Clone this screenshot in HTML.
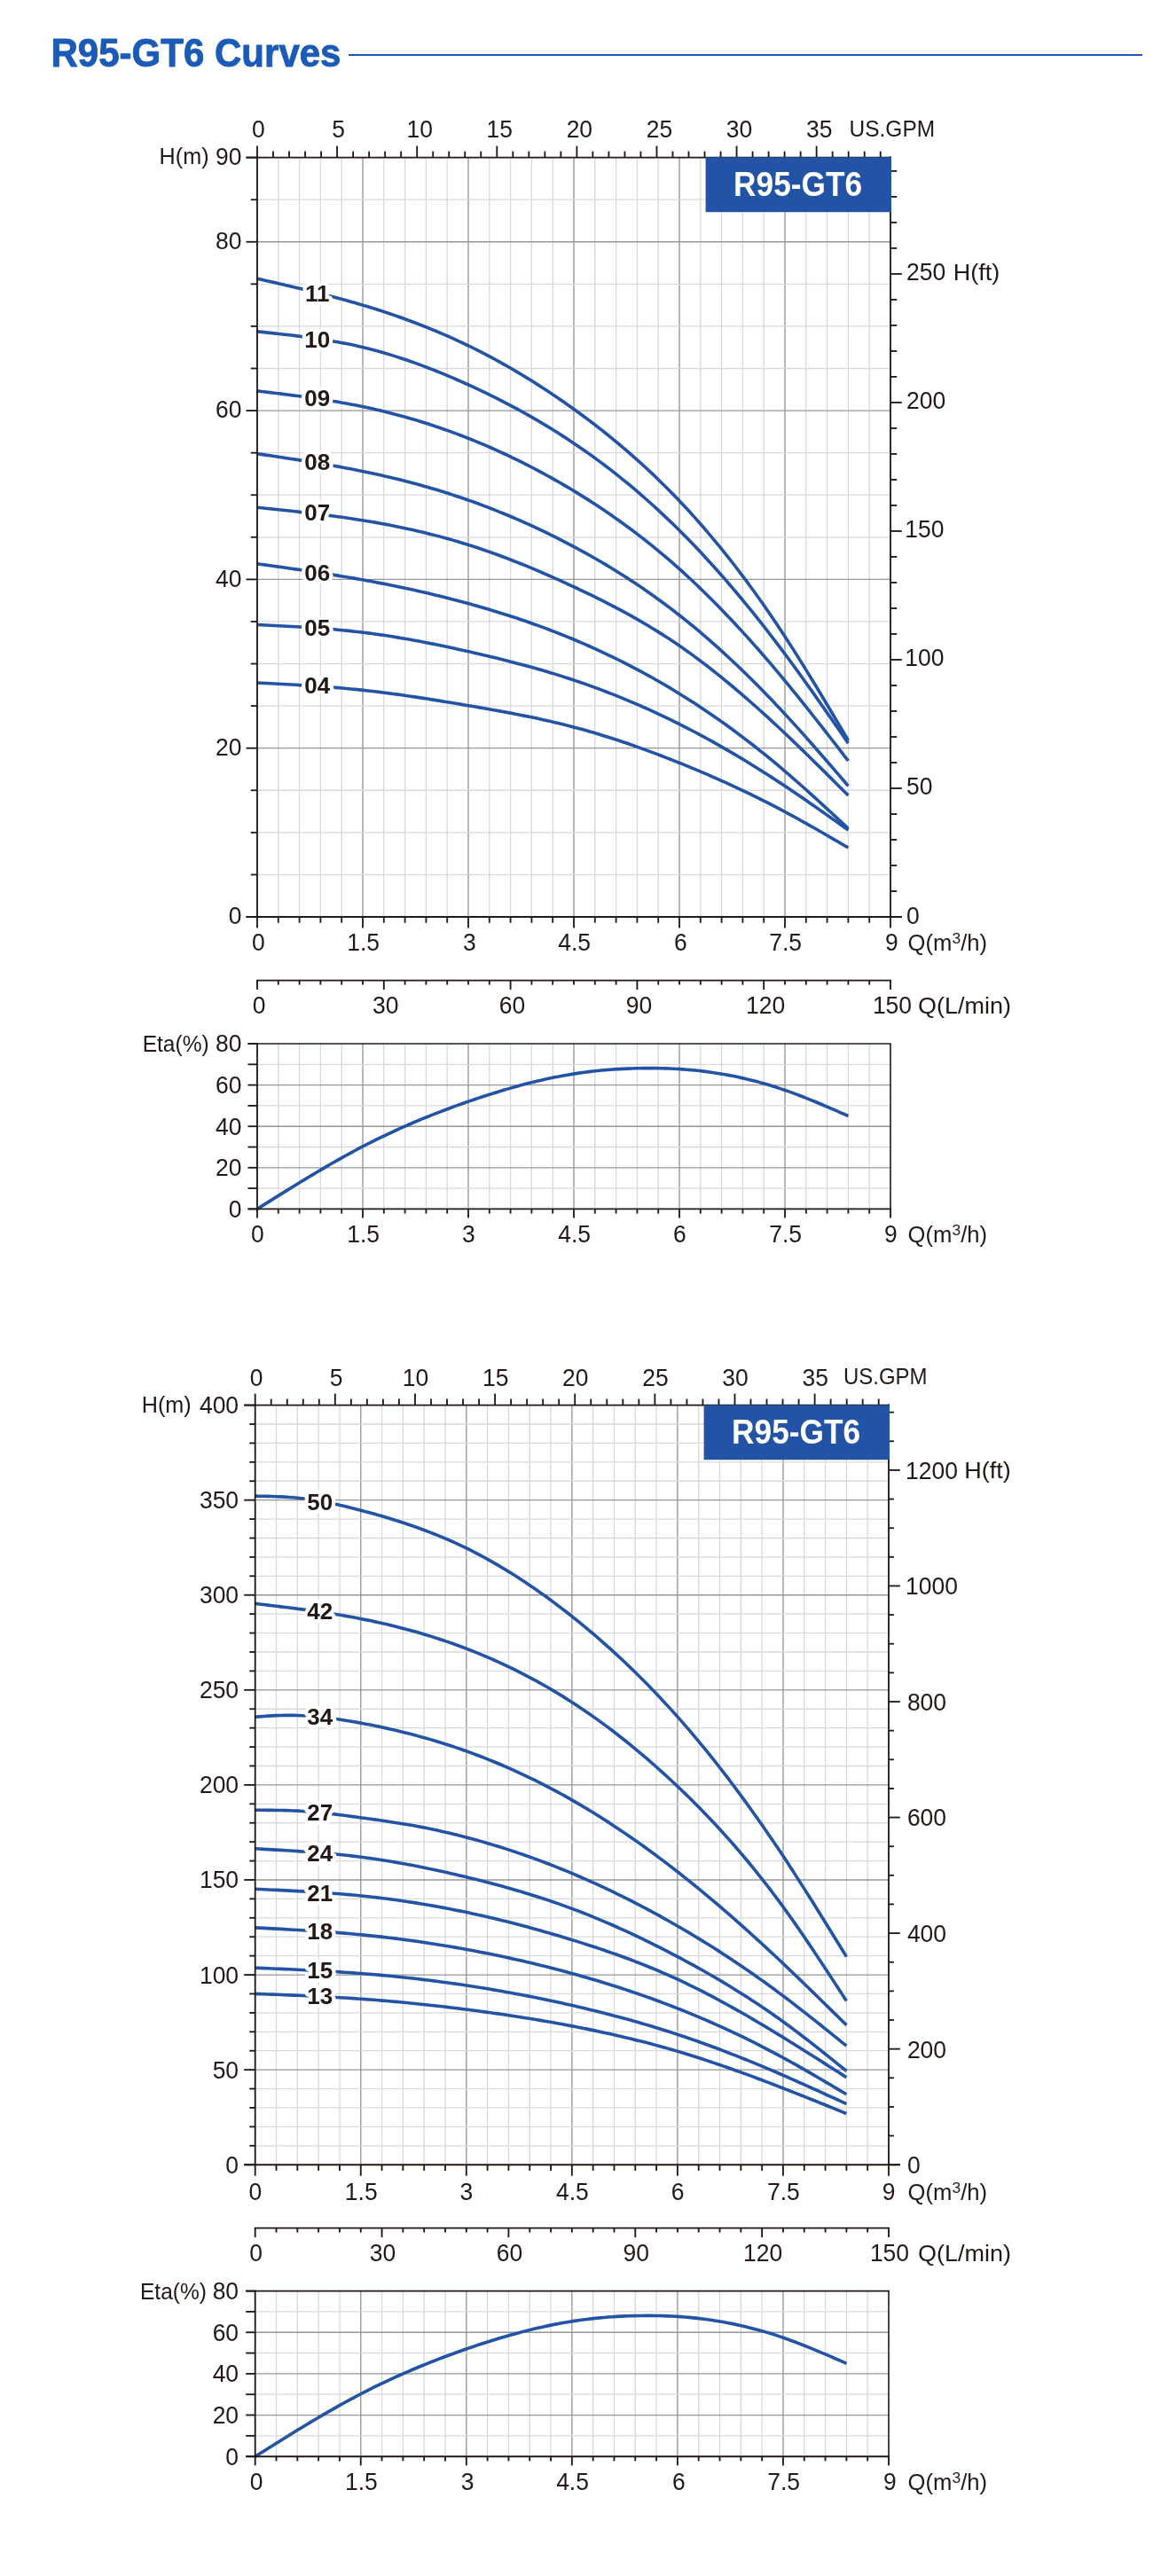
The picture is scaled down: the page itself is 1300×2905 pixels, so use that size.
<!DOCTYPE html>
<html lang="en">
<head>
<meta charset="utf-8">
<title>R95-GT6 Curves</title>
<style>
html,body{margin:0;padding:0;background:#fff;}
body{width:1300px;height:2905px;overflow:hidden;font-family:'Liberation Sans', sans-serif;}
svg text{white-space:pre;}
</style>
</head>
<body>
<svg width="1300" height="2905" viewBox="0 0 1300 2905" font-family="'Liberation Sans', sans-serif" style="display:block;will-change:transform">
<rect width="1300" height="2905" fill="#fff"/>
<text x="57.5" y="74.5" text-anchor="start" font-size="44.5" font-weight="bold" fill="#1b5bb8" textLength="327" lengthAdjust="spacingAndGlyphs" stroke="#1b5bb8" stroke-width="0.9" stroke-linejoin="round">R95-GT6 Curves</text>
<line x1="393" y1="62" x2="1288" y2="62" stroke="#1b5bb8" stroke-width="2"/>
<g shape-rendering="auto">
<line x1="313.8" y1="177.6" x2="313.8" y2="1034" stroke="#d9d9d9" stroke-width="1.3"/>
<line x1="337.6" y1="177.6" x2="337.6" y2="1034" stroke="#d9d9d9" stroke-width="1.3"/>
<line x1="361.4" y1="177.6" x2="361.4" y2="1034" stroke="#d9d9d9" stroke-width="1.3"/>
<line x1="385.2" y1="177.6" x2="385.2" y2="1034" stroke="#d9d9d9" stroke-width="1.3"/>
<line x1="409" y1="177.6" x2="409" y2="1034" stroke="#969696" stroke-width="1.35"/>
<line x1="432.8" y1="177.6" x2="432.8" y2="1034" stroke="#d9d9d9" stroke-width="1.3"/>
<line x1="456.6" y1="177.6" x2="456.6" y2="1034" stroke="#d9d9d9" stroke-width="1.3"/>
<line x1="480.4" y1="177.6" x2="480.4" y2="1034" stroke="#d9d9d9" stroke-width="1.3"/>
<line x1="504.2" y1="177.6" x2="504.2" y2="1034" stroke="#d9d9d9" stroke-width="1.3"/>
<line x1="528" y1="177.6" x2="528" y2="1034" stroke="#969696" stroke-width="1.35"/>
<line x1="551.8" y1="177.6" x2="551.8" y2="1034" stroke="#d9d9d9" stroke-width="1.3"/>
<line x1="575.6" y1="177.6" x2="575.6" y2="1034" stroke="#d9d9d9" stroke-width="1.3"/>
<line x1="599.4" y1="177.6" x2="599.4" y2="1034" stroke="#d9d9d9" stroke-width="1.3"/>
<line x1="623.2" y1="177.6" x2="623.2" y2="1034" stroke="#d9d9d9" stroke-width="1.3"/>
<line x1="647" y1="177.6" x2="647" y2="1034" stroke="#969696" stroke-width="1.35"/>
<line x1="670.8" y1="177.6" x2="670.8" y2="1034" stroke="#d9d9d9" stroke-width="1.3"/>
<line x1="694.6" y1="177.6" x2="694.6" y2="1034" stroke="#d9d9d9" stroke-width="1.3"/>
<line x1="718.4" y1="177.6" x2="718.4" y2="1034" stroke="#d9d9d9" stroke-width="1.3"/>
<line x1="742.2" y1="177.6" x2="742.2" y2="1034" stroke="#d9d9d9" stroke-width="1.3"/>
<line x1="766" y1="177.6" x2="766" y2="1034" stroke="#969696" stroke-width="1.35"/>
<line x1="789.8" y1="177.6" x2="789.8" y2="1034" stroke="#d9d9d9" stroke-width="1.3"/>
<line x1="813.6" y1="177.6" x2="813.6" y2="1034" stroke="#d9d9d9" stroke-width="1.3"/>
<line x1="837.4" y1="177.6" x2="837.4" y2="1034" stroke="#d9d9d9" stroke-width="1.3"/>
<line x1="861.2" y1="177.6" x2="861.2" y2="1034" stroke="#d9d9d9" stroke-width="1.3"/>
<line x1="885" y1="177.6" x2="885" y2="1034" stroke="#969696" stroke-width="1.35"/>
<line x1="908.8" y1="177.6" x2="908.8" y2="1034" stroke="#d9d9d9" stroke-width="1.3"/>
<line x1="932.6" y1="177.6" x2="932.6" y2="1034" stroke="#d9d9d9" stroke-width="1.3"/>
<line x1="956.4" y1="177.6" x2="956.4" y2="1034" stroke="#d9d9d9" stroke-width="1.3"/>
<line x1="980.2" y1="177.6" x2="980.2" y2="1034" stroke="#d9d9d9" stroke-width="1.3"/>
<line x1="290" y1="986.42" x2="1004" y2="986.42" stroke="#d9d9d9" stroke-width="1.3"/>
<line x1="290" y1="938.84" x2="1004" y2="938.84" stroke="#d9d9d9" stroke-width="1.3"/>
<line x1="290" y1="891.27" x2="1004" y2="891.27" stroke="#d9d9d9" stroke-width="1.3"/>
<line x1="290" y1="843.69" x2="1004" y2="843.69" stroke="#969696" stroke-width="1.35"/>
<line x1="290" y1="796.11" x2="1004" y2="796.11" stroke="#d9d9d9" stroke-width="1.3"/>
<line x1="290" y1="748.53" x2="1004" y2="748.53" stroke="#d9d9d9" stroke-width="1.3"/>
<line x1="290" y1="700.96" x2="1004" y2="700.96" stroke="#d9d9d9" stroke-width="1.3"/>
<line x1="290" y1="653.38" x2="1004" y2="653.38" stroke="#969696" stroke-width="1.35"/>
<line x1="290" y1="605.8" x2="1004" y2="605.8" stroke="#d9d9d9" stroke-width="1.3"/>
<line x1="290" y1="558.22" x2="1004" y2="558.22" stroke="#d9d9d9" stroke-width="1.3"/>
<line x1="290" y1="510.64" x2="1004" y2="510.64" stroke="#d9d9d9" stroke-width="1.3"/>
<line x1="290" y1="463.07" x2="1004" y2="463.07" stroke="#969696" stroke-width="1.35"/>
<line x1="290" y1="415.49" x2="1004" y2="415.49" stroke="#d9d9d9" stroke-width="1.3"/>
<line x1="290" y1="367.91" x2="1004" y2="367.91" stroke="#d9d9d9" stroke-width="1.3"/>
<line x1="290" y1="320.33" x2="1004" y2="320.33" stroke="#d9d9d9" stroke-width="1.3"/>
<line x1="290" y1="272.76" x2="1004" y2="272.76" stroke="#969696" stroke-width="1.35"/>
<line x1="290" y1="225.18" x2="1004" y2="225.18" stroke="#d9d9d9" stroke-width="1.3"/>
</g>
<g fill="none" stroke="#2253a5" stroke-width="3.6" stroke-linecap="butt" stroke-linejoin="round">
<path d="M290 314.2 L294.79 315.29 L299.59 316.39 L304.38 317.48 L309.18 318.58 L313.97 319.68 L318.77 320.79 L323.56 321.91 L328.35 323.03 L333.15 324.16 L337.94 325.3 L342.74 326.45 L347.53 327.62 L352.33 328.8 L357.12 329.99 L361.91 331.2 L366.71 332.42 L371.5 333.66 L376.3 334.92 L381.09 336.2 L385.88 337.5 L390.68 338.82 L395.47 340.17 L400.27 341.54 L405.06 342.93 L409.86 344.36 L414.65 345.8 L419.44 347.28 L424.24 348.79 L429.03 350.32 L433.83 351.89 L438.62 353.48 L443.42 355.11 L448.21 356.77 L453 358.46 L457.8 360.19 L462.59 361.95 L467.39 363.75 L472.18 365.58 L476.98 367.45 L481.77 369.36 L486.56 371.3 L491.36 373.28 L496.15 375.31 L500.95 377.37 L505.74 379.47 L510.54 381.62 L515.33 383.81 L520.12 386.04 L524.92 388.31 L529.71 390.63 L534.51 393 L539.3 395.41 L544.09 397.86 L548.89 400.36 L553.68 402.9 L558.48 405.49 L563.27 408.13 L568.07 410.81 L572.86 413.53 L577.65 416.3 L582.45 419.11 L587.24 421.97 L592.04 424.88 L596.83 427.83 L601.63 430.82 L606.42 433.86 L611.21 436.95 L616.01 440.08 L620.8 443.25 L625.6 446.47 L630.39 449.74 L635.19 453.05 L639.98 456.4 L644.77 459.81 L649.57 463.25 L654.36 466.74 L659.16 470.28 L663.95 473.87 L668.75 477.51 L673.54 481.2 L678.33 484.95 L683.13 488.75 L687.92 492.61 L692.72 496.53 L697.51 500.5 L702.31 504.54 L707.1 508.64 L711.89 512.81 L716.69 517.04 L721.48 521.34 L726.28 525.71 L731.07 530.15 L735.86 534.67 L740.66 539.26 L745.45 543.92 L750.25 548.66 L755.04 553.48 L759.84 558.38 L764.63 563.36 L769.42 568.43 L774.22 573.58 L779.01 578.81 L783.81 584.13 L788.6 589.54 L793.4 595.03 L798.19 600.62 L802.98 606.29 L807.78 612.05 L812.57 617.9 L817.37 623.84 L822.16 629.88 L826.96 636.01 L831.75 642.23 L836.54 648.54 L841.34 654.95 L846.13 661.45 L850.93 668.05 L855.72 674.75 L860.52 681.55 L865.31 688.44 L870.1 695.43 L874.9 702.53 L879.69 709.72 L884.49 717.01 L889.28 724.41 L894.07 731.9 L898.87 739.48 L903.66 747.14 L908.46 754.88 L913.25 762.69 L918.05 770.56 L922.84 778.48 L927.63 786.45 L932.43 794.46 L937.22 802.51 L942.02 810.58 L946.81 818.68 L951.61 826.78 L956.4 834.9"/>
<path d="M290 373.9 L294.79 374.4 L299.59 374.9 L304.38 375.4 L309.18 375.91 L313.97 376.43 L318.77 376.96 L323.56 377.51 L328.35 378.06 L333.15 378.64 L337.94 379.23 L342.74 379.84 L347.53 380.48 L352.33 381.14 L357.12 381.83 L361.91 382.55 L366.71 383.3 L371.5 384.08 L376.3 384.9 L381.09 385.76 L385.88 386.65 L390.68 387.59 L395.47 388.57 L400.27 389.6 L405.06 390.68 L409.86 391.81 L414.65 392.98 L419.44 394.21 L424.24 395.49 L429.03 396.82 L433.83 398.2 L438.62 399.63 L443.42 401.1 L448.21 402.62 L453 404.18 L457.8 405.79 L462.59 407.44 L467.39 409.13 L472.18 410.87 L476.98 412.65 L481.77 414.47 L486.56 416.32 L491.36 418.22 L496.15 420.15 L500.95 422.12 L505.74 424.13 L510.54 426.17 L515.33 428.25 L520.12 430.36 L524.92 432.51 L529.71 434.68 L534.51 436.89 L539.3 439.13 L544.09 441.4 L548.89 443.71 L553.68 446.05 L558.48 448.43 L563.27 450.85 L568.07 453.3 L572.86 455.8 L577.65 458.33 L582.45 460.9 L587.24 463.52 L592.04 466.17 L596.83 468.87 L601.63 471.61 L606.42 474.4 L611.21 477.23 L616.01 480.11 L620.8 483.04 L625.6 486.01 L630.39 489.04 L635.19 492.11 L639.98 495.23 L644.77 498.41 L649.57 501.64 L654.36 504.92 L659.16 508.25 L663.95 511.64 L668.75 515.08 L673.54 518.58 L678.33 522.14 L683.13 525.76 L687.92 529.43 L692.72 533.16 L697.51 536.95 L702.31 540.81 L707.1 544.72 L711.89 548.7 L716.69 552.74 L721.48 556.84 L726.28 561.01 L731.07 565.24 L735.86 569.53 L740.66 573.9 L745.45 578.33 L750.25 582.83 L755.04 587.4 L759.84 592.03 L764.63 596.74 L769.42 601.52 L774.22 606.37 L779.01 611.29 L783.81 616.28 L788.6 621.34 L793.4 626.47 L798.19 631.67 L802.98 636.94 L807.78 642.28 L812.57 647.69 L817.37 653.16 L822.16 658.7 L826.96 664.31 L831.75 669.99 L836.54 675.74 L841.34 681.55 L846.13 687.43 L850.93 693.37 L855.72 699.38 L860.52 705.46 L865.31 711.6 L870.1 717.8 L874.9 724.08 L879.69 730.41 L884.49 736.81 L889.28 743.27 L894.07 749.8 L898.87 756.37 L903.66 763 L908.46 769.68 L913.25 776.4 L918.05 783.16 L922.84 789.95 L927.63 796.77 L932.43 803.62 L937.22 810.49 L942.02 817.38 L946.81 824.28 L951.61 831.19 L956.4 838.1"/>
<path d="M290 440.9 L294.79 441.47 L299.59 442.04 L304.38 442.62 L309.18 443.2 L313.97 443.78 L318.77 444.38 L323.56 444.98 L328.35 445.59 L333.15 446.21 L337.94 446.84 L342.74 447.49 L347.53 448.15 L352.33 448.83 L357.12 449.53 L361.91 450.25 L366.71 450.98 L371.5 451.74 L376.3 452.52 L381.09 453.33 L385.88 454.17 L390.68 455.03 L395.47 455.92 L400.27 456.84 L405.06 457.79 L409.86 458.78 L414.65 459.8 L419.44 460.85 L424.24 461.94 L429.03 463.07 L433.83 464.23 L438.62 465.42 L443.42 466.65 L448.21 467.91 L453 469.21 L457.8 470.55 L462.59 471.92 L467.39 473.33 L472.18 474.77 L476.98 476.25 L481.77 477.77 L486.56 479.33 L491.36 480.92 L496.15 482.54 L500.95 484.21 L505.74 485.91 L510.54 487.65 L515.33 489.42 L520.12 491.24 L524.92 493.09 L529.71 494.98 L534.51 496.91 L539.3 498.87 L544.09 500.88 L548.89 502.92 L553.68 505.01 L558.48 507.13 L563.27 509.29 L568.07 511.49 L572.86 513.73 L577.65 516.01 L582.45 518.33 L587.24 520.69 L592.04 523.1 L596.83 525.54 L601.63 528.02 L606.42 530.55 L611.21 533.11 L616.01 535.72 L620.8 538.37 L625.6 541.06 L630.39 543.8 L635.19 546.57 L639.98 549.39 L644.77 552.26 L649.57 555.16 L654.36 558.11 L659.16 561.1 L663.95 564.14 L668.75 567.23 L673.54 570.36 L678.33 573.55 L683.13 576.78 L687.92 580.06 L692.72 583.4 L697.51 586.79 L702.31 590.23 L707.1 593.73 L711.89 597.28 L716.69 600.9 L721.48 604.56 L726.28 608.29 L731.07 612.08 L735.86 615.93 L740.66 619.84 L745.45 623.82 L750.25 627.86 L755.04 631.97 L759.84 636.14 L764.63 640.38 L769.42 644.68 L774.22 649.06 L779.01 653.5 L783.81 658.01 L788.6 662.59 L793.4 667.23 L798.19 671.94 L802.98 676.71 L807.78 681.55 L812.57 686.45 L817.37 691.41 L822.16 696.43 L826.96 701.52 L831.75 706.67 L836.54 711.87 L841.34 717.14 L846.13 722.46 L850.93 727.84 L855.72 733.28 L860.52 738.77 L865.31 744.33 L870.1 749.93 L874.9 755.59 L879.69 761.31 L884.49 767.08 L889.28 772.9 L894.07 778.77 L898.87 784.69 L903.66 790.65 L908.46 796.65 L913.25 802.68 L918.05 808.75 L922.84 814.84 L927.63 820.96 L932.43 827.1 L937.22 833.26 L942.02 839.43 L946.81 845.62 L951.61 851.81 L956.4 858"/>
<path d="M290 511.7 L294.79 512.4 L299.59 513.11 L304.38 513.82 L309.18 514.53 L313.97 515.24 L318.77 515.96 L323.56 516.69 L328.35 517.42 L333.15 518.15 L337.94 518.9 L342.74 519.65 L347.53 520.42 L352.33 521.19 L357.12 521.98 L361.91 522.78 L366.71 523.59 L371.5 524.42 L376.3 525.27 L381.09 526.13 L385.88 527 L390.68 527.9 L395.47 528.81 L400.27 529.75 L405.06 530.7 L409.86 531.68 L414.65 532.67 L419.44 533.7 L424.24 534.74 L429.03 535.81 L433.83 536.9 L438.62 538.02 L443.42 539.17 L448.21 540.34 L453 541.53 L457.8 542.75 L462.59 544 L467.39 545.28 L472.18 546.59 L476.98 547.92 L481.77 549.28 L486.56 550.67 L491.36 552.1 L496.15 553.55 L500.95 555.03 L505.74 556.55 L510.54 558.09 L515.33 559.67 L520.12 561.28 L524.92 562.93 L529.71 564.6 L534.51 566.31 L539.3 568.06 L544.09 569.84 L548.89 571.65 L553.68 573.5 L558.48 575.39 L563.27 577.3 L568.07 579.26 L572.86 581.24 L577.65 583.27 L582.45 585.32 L587.24 587.42 L592.04 589.54 L596.83 591.71 L601.63 593.91 L606.42 596.14 L611.21 598.41 L616.01 600.72 L620.8 603.06 L625.6 605.44 L630.39 607.85 L635.19 610.3 L639.98 612.79 L644.77 615.32 L649.57 617.88 L654.36 620.47 L659.16 623.11 L663.95 625.79 L668.75 628.5 L673.54 631.26 L678.33 634.06 L683.13 636.9 L687.92 639.79 L692.72 642.72 L697.51 645.7 L702.31 648.72 L707.1 651.79 L711.89 654.91 L716.69 658.08 L721.48 661.3 L726.28 664.58 L731.07 667.9 L735.86 671.28 L740.66 674.71 L745.45 678.2 L750.25 681.74 L755.04 685.35 L759.84 689.01 L764.63 692.73 L769.42 696.51 L774.22 700.35 L779.01 704.25 L783.81 708.21 L788.6 712.22 L793.4 716.3 L798.19 720.44 L802.98 724.64 L807.78 728.89 L812.57 733.2 L817.37 737.57 L822.16 742 L826.96 746.48 L831.75 751.02 L836.54 755.62 L841.34 760.27 L846.13 764.98 L850.93 769.75 L855.72 774.57 L860.52 779.45 L865.31 784.38 L870.1 789.36 L874.9 794.4 L879.69 799.5 L884.49 804.65 L889.28 809.85 L894.07 815.1 L898.87 820.39 L903.66 825.74 L908.46 831.12 L913.25 836.53 L918.05 841.98 L922.84 847.46 L927.63 852.96 L932.43 858.48 L937.22 864.03 L942.02 869.58 L946.81 875.15 L951.61 880.72 L956.4 886.3"/>
<path d="M290 572.3 L294.79 572.79 L299.59 573.28 L304.38 573.78 L309.18 574.27 L313.97 574.77 L318.77 575.28 L323.56 575.79 L328.35 576.3 L333.15 576.83 L337.94 577.36 L342.74 577.9 L347.53 578.45 L352.33 579.01 L357.12 579.59 L361.91 580.17 L366.71 580.77 L371.5 581.39 L376.3 582.02 L381.09 582.67 L385.88 583.33 L390.68 584.01 L395.47 584.71 L400.27 585.43 L405.06 586.17 L409.86 586.94 L414.65 587.72 L419.44 588.53 L424.24 589.37 L429.03 590.22 L433.83 591.11 L438.62 592.02 L443.42 592.95 L448.21 593.91 L453 594.9 L457.8 595.92 L462.59 596.96 L467.39 598.04 L472.18 599.14 L476.98 600.28 L481.77 601.44 L486.56 602.64 L491.36 603.87 L496.15 605.13 L500.95 606.43 L505.74 607.76 L510.54 609.13 L515.33 610.53 L520.12 611.96 L524.92 613.43 L529.71 614.94 L534.51 616.49 L539.3 618.07 L544.09 619.69 L548.89 621.35 L553.68 623.03 L558.48 624.76 L563.27 626.51 L568.07 628.3 L572.86 630.12 L577.65 631.97 L582.45 633.85 L587.24 635.76 L592.04 637.7 L596.83 639.67 L601.63 641.67 L606.42 643.69 L611.21 645.74 L616.01 647.81 L620.8 649.91 L625.6 652.04 L630.39 654.19 L635.19 656.36 L639.98 658.55 L644.77 660.76 L649.57 663 L654.36 665.26 L659.16 667.54 L663.95 669.84 L668.75 672.18 L673.54 674.54 L678.33 676.93 L683.13 679.35 L687.92 681.81 L692.72 684.31 L697.51 686.84 L702.31 689.41 L707.1 692.02 L711.89 694.68 L716.69 697.38 L721.48 700.13 L726.28 702.93 L731.07 705.77 L735.86 708.67 L740.66 711.62 L745.45 714.63 L750.25 717.7 L755.04 720.82 L759.84 724.01 L764.63 727.26 L769.42 730.57 L774.22 733.95 L779.01 737.39 L783.81 740.9 L788.6 744.46 L793.4 748.08 L798.19 751.76 L802.98 755.5 L807.78 759.3 L812.57 763.14 L817.37 767.04 L822.16 771 L826.96 775 L831.75 779.05 L836.54 783.15 L841.34 787.3 L846.13 791.49 L850.93 795.73 L855.72 800.01 L860.52 804.33 L865.31 808.69 L870.1 813.09 L874.9 817.53 L879.69 822 L884.49 826.51 L889.28 831.06 L894.07 835.64 L898.87 840.24 L903.66 844.88 L908.46 849.53 L913.25 854.22 L918.05 858.92 L922.84 863.64 L927.63 868.37 L932.43 873.12 L937.22 877.89 L942.02 882.66 L946.81 887.43 L951.61 892.22 L956.4 897"/>
<path d="M290 635.8 L294.79 636.46 L299.59 637.13 L304.38 637.8 L309.18 638.47 L313.97 639.14 L318.77 639.81 L323.56 640.49 L328.35 641.17 L333.15 641.86 L337.94 642.55 L342.74 643.25 L347.53 643.96 L352.33 644.67 L357.12 645.39 L361.91 646.13 L366.71 646.87 L371.5 647.62 L376.3 648.38 L381.09 649.15 L385.88 649.93 L390.68 650.73 L395.47 651.54 L400.27 652.36 L405.06 653.2 L409.86 654.05 L414.65 654.92 L419.44 655.81 L424.24 656.71 L429.03 657.62 L433.83 658.56 L438.62 659.51 L443.42 660.47 L448.21 661.46 L453 662.46 L457.8 663.48 L462.59 664.52 L467.39 665.57 L472.18 666.65 L476.98 667.74 L481.77 668.85 L486.56 669.98 L491.36 671.14 L496.15 672.31 L500.95 673.5 L505.74 674.71 L510.54 675.94 L515.33 677.19 L520.12 678.46 L524.92 679.76 L529.71 681.07 L534.51 682.41 L539.3 683.77 L544.09 685.15 L548.89 686.56 L553.68 687.98 L558.48 689.44 L563.27 690.91 L568.07 692.42 L572.86 693.95 L577.65 695.5 L582.45 697.08 L587.24 698.69 L592.04 700.32 L596.83 701.99 L601.63 703.68 L606.42 705.4 L611.21 707.15 L616.01 708.93 L620.8 710.74 L625.6 712.59 L630.39 714.46 L635.19 716.36 L639.98 718.3 L644.77 720.27 L649.57 722.28 L654.36 724.32 L659.16 726.39 L663.95 728.5 L668.75 730.64 L673.54 732.81 L678.33 735.03 L683.13 737.28 L687.92 739.56 L692.72 741.89 L697.51 744.25 L702.31 746.65 L707.1 749.08 L711.89 751.56 L716.69 754.07 L721.48 756.63 L726.28 759.22 L731.07 761.85 L735.86 764.53 L740.66 767.25 L745.45 770 L750.25 772.8 L755.04 775.64 L759.84 778.53 L764.63 781.46 L769.42 784.43 L774.22 787.44 L779.01 790.5 L783.81 793.6 L788.6 796.75 L793.4 799.94 L798.19 803.18 L802.98 806.46 L807.78 809.78 L812.57 813.15 L817.37 816.57 L822.16 820.03 L826.96 823.54 L831.75 827.09 L836.54 830.69 L841.34 834.34 L846.13 838.03 L850.93 841.77 L855.72 845.56 L860.52 849.39 L865.31 853.27 L870.1 857.19 L874.9 861.17 L879.69 865.19 L884.49 869.26 L889.28 873.38 L894.07 877.54 L898.87 881.75 L903.66 885.99 L908.46 890.27 L913.25 894.58 L918.05 898.92 L922.84 903.29 L927.63 907.67 L932.43 912.08 L937.22 916.51 L942.02 920.94 L946.81 925.39 L951.61 929.84 L956.4 934.3"/>
<path d="M290 704.5 L294.79 704.73 L299.59 704.97 L304.38 705.21 L309.18 705.45 L313.97 705.69 L318.77 705.94 L323.56 706.2 L328.35 706.47 L333.15 706.74 L337.94 707.03 L342.74 707.32 L347.53 707.63 L352.33 707.95 L357.12 708.29 L361.91 708.64 L366.71 709.01 L371.5 709.4 L376.3 709.81 L381.09 710.24 L385.88 710.69 L390.68 711.16 L395.47 711.66 L400.27 712.18 L405.06 712.73 L409.86 713.3 L414.65 713.91 L419.44 714.54 L424.24 715.2 L429.03 715.88 L433.83 716.59 L438.62 717.32 L443.42 718.08 L448.21 718.86 L453 719.67 L457.8 720.49 L462.59 721.34 L467.39 722.21 L472.18 723.1 L476.98 724.01 L481.77 724.94 L486.56 725.88 L491.36 726.84 L496.15 727.82 L500.95 728.82 L505.74 729.83 L510.54 730.85 L515.33 731.89 L520.12 732.94 L524.92 734.01 L529.71 735.09 L534.51 736.18 L539.3 737.28 L544.09 738.39 L548.89 739.52 L553.68 740.66 L558.48 741.82 L563.27 743 L568.07 744.19 L572.86 745.41 L577.65 746.64 L582.45 747.89 L587.24 749.16 L592.04 750.45 L596.83 751.76 L601.63 753.1 L606.42 754.45 L611.21 755.84 L616.01 757.25 L620.8 758.68 L625.6 760.14 L630.39 761.63 L635.19 763.14 L639.98 764.69 L644.77 766.26 L649.57 767.86 L654.36 769.5 L659.16 771.16 L663.95 772.86 L668.75 774.59 L673.54 776.35 L678.33 778.14 L683.13 779.96 L687.92 781.81 L692.72 783.7 L697.51 785.62 L702.31 787.57 L707.1 789.55 L711.89 791.56 L716.69 793.61 L721.48 795.69 L726.28 797.8 L731.07 799.95 L735.86 802.13 L740.66 804.34 L745.45 806.59 L750.25 808.87 L755.04 811.18 L759.84 813.53 L764.63 815.91 L769.42 818.33 L774.22 820.78 L779.01 823.26 L783.81 825.78 L788.6 828.33 L793.4 830.92 L798.19 833.53 L802.98 836.18 L807.78 838.87 L812.57 841.58 L817.37 844.33 L822.16 847.11 L826.96 849.92 L831.75 852.76 L836.54 855.64 L841.34 858.54 L846.13 861.48 L850.93 864.45 L855.72 867.45 L860.52 870.47 L865.31 873.53 L870.1 876.62 L874.9 879.74 L879.69 882.88 L884.49 886.06 L889.28 889.26 L894.07 892.49 L898.87 895.75 L903.66 899.03 L908.46 902.33 L913.25 905.65 L918.05 908.99 L922.84 912.35 L927.63 915.72 L932.43 919.1 L937.22 922.48 L942.02 925.88 L946.81 929.28 L951.61 932.69 L956.4 936.1"/>
<path d="M290 770 L294.79 770.25 L299.59 770.49 L304.38 770.74 L309.18 770.99 L313.97 771.25 L318.77 771.51 L323.56 771.77 L328.35 772.04 L333.15 772.32 L337.94 772.6 L342.74 772.9 L347.53 773.2 L352.33 773.51 L357.12 773.84 L361.91 774.17 L366.71 774.52 L371.5 774.89 L376.3 775.26 L381.09 775.66 L385.88 776.07 L390.68 776.49 L395.47 776.94 L400.27 777.4 L405.06 777.89 L409.86 778.39 L414.65 778.92 L419.44 779.46 L424.24 780.03 L429.03 780.61 L433.83 781.22 L438.62 781.84 L443.42 782.47 L448.21 783.13 L453 783.8 L457.8 784.48 L462.59 785.18 L467.39 785.89 L472.18 786.61 L476.98 787.35 L481.77 788.09 L486.56 788.85 L491.36 789.61 L496.15 790.39 L500.95 791.17 L505.74 791.96 L510.54 792.76 L515.33 793.56 L520.12 794.36 L524.92 795.18 L529.71 795.99 L534.51 796.81 L539.3 797.63 L544.09 798.46 L548.89 799.3 L553.68 800.15 L558.48 801 L563.27 801.87 L568.07 802.75 L572.86 803.64 L577.65 804.54 L582.45 805.46 L587.24 806.4 L592.04 807.36 L596.83 808.33 L601.63 809.33 L606.42 810.35 L611.21 811.39 L616.01 812.45 L620.8 813.54 L625.6 814.66 L630.39 815.8 L635.19 816.98 L639.98 818.18 L644.77 819.42 L649.57 820.68 L654.36 821.98 L659.16 823.32 L663.95 824.68 L668.75 826.07 L673.54 827.5 L678.33 828.96 L683.13 830.44 L687.92 831.96 L692.72 833.5 L697.51 835.07 L702.31 836.67 L707.1 838.3 L711.89 839.95 L716.69 841.63 L721.48 843.34 L726.28 845.07 L731.07 846.82 L735.86 848.6 L740.66 850.41 L745.45 852.23 L750.25 854.08 L755.04 855.95 L759.84 857.84 L764.63 859.75 L769.42 861.68 L774.22 863.63 L779.01 865.61 L783.81 867.6 L788.6 869.62 L793.4 871.66 L798.19 873.72 L802.98 875.81 L807.78 877.92 L812.57 880.05 L817.37 882.21 L822.16 884.39 L826.96 886.6 L831.75 888.83 L836.54 891.09 L841.34 893.38 L846.13 895.69 L850.93 898.03 L855.72 900.4 L860.52 902.8 L865.31 905.22 L870.1 907.68 L874.9 910.16 L879.69 912.68 L884.49 915.23 L889.28 917.8 L894.07 920.41 L898.87 923.04 L903.66 925.7 L908.46 928.38 L913.25 931.08 L918.05 933.81 L922.84 936.54 L927.63 939.3 L932.43 942.06 L937.22 944.84 L942.02 947.62 L946.81 950.41 L951.61 953.2 L956.4 956"/>
</g>
<line x1="290" y1="176.6" x2="290" y2="1035" stroke="#231815" stroke-width="1.85"/>
<line x1="1004" y1="176.6" x2="1004" y2="1035" stroke="#231815" stroke-width="1.85"/>
<line x1="277.5" y1="177.6" x2="1005" y2="177.6" stroke="#231815" stroke-width="1.85"/>
<line x1="277.5" y1="1034" x2="1016.8" y2="1034" stroke="#231815" stroke-width="1.85"/>
<line x1="277.5" y1="1034" x2="290" y2="1034" stroke="#231815" stroke-width="1.85"/>
<line x1="282.8" y1="986.42" x2="290" y2="986.42" stroke="#231815" stroke-width="1.85"/>
<line x1="282.8" y1="938.84" x2="290" y2="938.84" stroke="#231815" stroke-width="1.85"/>
<line x1="282.8" y1="891.27" x2="290" y2="891.27" stroke="#231815" stroke-width="1.85"/>
<line x1="277.5" y1="843.69" x2="290" y2="843.69" stroke="#231815" stroke-width="1.85"/>
<line x1="282.8" y1="796.11" x2="290" y2="796.11" stroke="#231815" stroke-width="1.85"/>
<line x1="282.8" y1="748.53" x2="290" y2="748.53" stroke="#231815" stroke-width="1.85"/>
<line x1="282.8" y1="700.96" x2="290" y2="700.96" stroke="#231815" stroke-width="1.85"/>
<line x1="277.5" y1="653.38" x2="290" y2="653.38" stroke="#231815" stroke-width="1.85"/>
<line x1="282.8" y1="605.8" x2="290" y2="605.8" stroke="#231815" stroke-width="1.85"/>
<line x1="282.8" y1="558.22" x2="290" y2="558.22" stroke="#231815" stroke-width="1.85"/>
<line x1="282.8" y1="510.64" x2="290" y2="510.64" stroke="#231815" stroke-width="1.85"/>
<line x1="277.5" y1="463.07" x2="290" y2="463.07" stroke="#231815" stroke-width="1.85"/>
<line x1="282.8" y1="415.49" x2="290" y2="415.49" stroke="#231815" stroke-width="1.85"/>
<line x1="282.8" y1="367.91" x2="290" y2="367.91" stroke="#231815" stroke-width="1.85"/>
<line x1="282.8" y1="320.33" x2="290" y2="320.33" stroke="#231815" stroke-width="1.85"/>
<line x1="277.5" y1="272.76" x2="290" y2="272.76" stroke="#231815" stroke-width="1.85"/>
<line x1="282.8" y1="225.18" x2="290" y2="225.18" stroke="#231815" stroke-width="1.85"/>
<line x1="277.5" y1="177.6" x2="290" y2="177.6" stroke="#231815" stroke-width="1.85"/>
<text x="272.5" y="185.8" text-anchor="end" font-size="28" fill="#231815" textLength="29.46" lengthAdjust="spacingAndGlyphs">90</text>
<text x="272.5" y="280.96" text-anchor="end" font-size="28" fill="#231815" textLength="29.46" lengthAdjust="spacingAndGlyphs">80</text>
<text x="272.5" y="471.27" text-anchor="end" font-size="28" fill="#231815" textLength="29.46" lengthAdjust="spacingAndGlyphs">60</text>
<text x="272.5" y="661.58" text-anchor="end" font-size="28" fill="#231815" textLength="29.46" lengthAdjust="spacingAndGlyphs">40</text>
<text x="272.5" y="851.89" text-anchor="end" font-size="28" fill="#231815" textLength="29.46" lengthAdjust="spacingAndGlyphs">20</text>
<text x="272.5" y="1042.2" text-anchor="end" font-size="28" fill="#231815" textLength="14.73" lengthAdjust="spacingAndGlyphs">0</text>
<text x="179.6" y="184.7" text-anchor="start" font-size="25" font-weight="normal" fill="#231815" textLength="56" lengthAdjust="spacingAndGlyphs">H(m)</text>
<line x1="1004" y1="1034" x2="1016.8" y2="1034" stroke="#231815" stroke-width="1.85"/>
<line x1="1004" y1="1005" x2="1011.2" y2="1005" stroke="#231815" stroke-width="1.85"/>
<line x1="1004" y1="975.99" x2="1011.2" y2="975.99" stroke="#231815" stroke-width="1.85"/>
<line x1="1004" y1="946.99" x2="1011.2" y2="946.99" stroke="#231815" stroke-width="1.85"/>
<line x1="1004" y1="917.99" x2="1011.2" y2="917.99" stroke="#231815" stroke-width="1.85"/>
<line x1="1004" y1="888.98" x2="1016.8" y2="888.98" stroke="#231815" stroke-width="1.85"/>
<line x1="1004" y1="859.98" x2="1011.2" y2="859.98" stroke="#231815" stroke-width="1.85"/>
<line x1="1004" y1="830.98" x2="1011.2" y2="830.98" stroke="#231815" stroke-width="1.85"/>
<line x1="1004" y1="801.97" x2="1011.2" y2="801.97" stroke="#231815" stroke-width="1.85"/>
<line x1="1004" y1="772.97" x2="1011.2" y2="772.97" stroke="#231815" stroke-width="1.85"/>
<line x1="1004" y1="743.97" x2="1016.8" y2="743.97" stroke="#231815" stroke-width="1.85"/>
<line x1="1004" y1="714.96" x2="1011.2" y2="714.96" stroke="#231815" stroke-width="1.85"/>
<line x1="1004" y1="685.96" x2="1011.2" y2="685.96" stroke="#231815" stroke-width="1.85"/>
<line x1="1004" y1="656.96" x2="1011.2" y2="656.96" stroke="#231815" stroke-width="1.85"/>
<line x1="1004" y1="627.95" x2="1011.2" y2="627.95" stroke="#231815" stroke-width="1.85"/>
<line x1="1004" y1="598.95" x2="1016.8" y2="598.95" stroke="#231815" stroke-width="1.85"/>
<line x1="1004" y1="569.95" x2="1011.2" y2="569.95" stroke="#231815" stroke-width="1.85"/>
<line x1="1004" y1="540.94" x2="1011.2" y2="540.94" stroke="#231815" stroke-width="1.85"/>
<line x1="1004" y1="511.94" x2="1011.2" y2="511.94" stroke="#231815" stroke-width="1.85"/>
<line x1="1004" y1="482.94" x2="1011.2" y2="482.94" stroke="#231815" stroke-width="1.85"/>
<line x1="1004" y1="453.93" x2="1016.8" y2="453.93" stroke="#231815" stroke-width="1.85"/>
<line x1="1004" y1="424.93" x2="1011.2" y2="424.93" stroke="#231815" stroke-width="1.85"/>
<line x1="1004" y1="395.92" x2="1011.2" y2="395.92" stroke="#231815" stroke-width="1.85"/>
<line x1="1004" y1="366.92" x2="1011.2" y2="366.92" stroke="#231815" stroke-width="1.85"/>
<line x1="1004" y1="337.92" x2="1011.2" y2="337.92" stroke="#231815" stroke-width="1.85"/>
<line x1="1004" y1="308.91" x2="1016.8" y2="308.91" stroke="#231815" stroke-width="1.85"/>
<line x1="1004" y1="279.91" x2="1011.2" y2="279.91" stroke="#231815" stroke-width="1.85"/>
<line x1="1004" y1="250.91" x2="1011.2" y2="250.91" stroke="#231815" stroke-width="1.85"/>
<line x1="1004" y1="221.9" x2="1011.2" y2="221.9" stroke="#231815" stroke-width="1.85"/>
<line x1="1004" y1="192.9" x2="1011.2" y2="192.9" stroke="#231815" stroke-width="1.85"/>
<text x="1022" y="316.41" text-anchor="start" font-size="28" fill="#231815" textLength="44.19" lengthAdjust="spacingAndGlyphs">250</text>
<text x="1074.79" y="316.01" text-anchor="start" font-size="25" font-weight="normal" fill="#231815" textLength="52.5" lengthAdjust="spacingAndGlyphs">H(ft)</text>
<text x="1022" y="461.43" text-anchor="start" font-size="28" fill="#231815" textLength="44.19" lengthAdjust="spacingAndGlyphs">200</text>
<text x="1020.2" y="606.45" text-anchor="start" font-size="28" fill="#231815" textLength="44.19" lengthAdjust="spacingAndGlyphs">150</text>
<text x="1020.2" y="751.47" text-anchor="start" font-size="28" fill="#231815" textLength="44.19" lengthAdjust="spacingAndGlyphs">100</text>
<text x="1022" y="896.48" text-anchor="start" font-size="28" fill="#231815" textLength="29.46" lengthAdjust="spacingAndGlyphs">50</text>
<text x="1022" y="1041.5" text-anchor="start" font-size="28" fill="#231815" textLength="14.73" lengthAdjust="spacingAndGlyphs">0</text>
<line x1="290" y1="164.6" x2="290" y2="177.6" stroke="#231815" stroke-width="1.85"/>
<text x="291.4" y="155.3" text-anchor="middle" font-size="28" fill="#231815" textLength="14.73" lengthAdjust="spacingAndGlyphs">0</text>
<line x1="308.02" y1="170.6" x2="308.02" y2="177.6" stroke="#231815" stroke-width="1.85"/>
<line x1="326.04" y1="170.6" x2="326.04" y2="177.6" stroke="#231815" stroke-width="1.85"/>
<line x1="344.06" y1="170.6" x2="344.06" y2="177.6" stroke="#231815" stroke-width="1.85"/>
<line x1="362.07" y1="170.6" x2="362.07" y2="177.6" stroke="#231815" stroke-width="1.85"/>
<line x1="380.09" y1="164.6" x2="380.09" y2="177.6" stroke="#231815" stroke-width="1.85"/>
<text x="381.49" y="155.3" text-anchor="middle" font-size="28" fill="#231815" textLength="14.73" lengthAdjust="spacingAndGlyphs">5</text>
<line x1="398.11" y1="170.6" x2="398.11" y2="177.6" stroke="#231815" stroke-width="1.85"/>
<line x1="416.13" y1="170.6" x2="416.13" y2="177.6" stroke="#231815" stroke-width="1.85"/>
<line x1="434.15" y1="170.6" x2="434.15" y2="177.6" stroke="#231815" stroke-width="1.85"/>
<line x1="452.17" y1="170.6" x2="452.17" y2="177.6" stroke="#231815" stroke-width="1.85"/>
<line x1="470.19" y1="164.6" x2="470.19" y2="177.6" stroke="#231815" stroke-width="1.85"/>
<text x="473.19" y="155.3" text-anchor="middle" font-size="28" fill="#231815" textLength="29.46" lengthAdjust="spacingAndGlyphs">10</text>
<line x1="488.2" y1="170.6" x2="488.2" y2="177.6" stroke="#231815" stroke-width="1.85"/>
<line x1="506.22" y1="170.6" x2="506.22" y2="177.6" stroke="#231815" stroke-width="1.85"/>
<line x1="524.24" y1="170.6" x2="524.24" y2="177.6" stroke="#231815" stroke-width="1.85"/>
<line x1="542.26" y1="170.6" x2="542.26" y2="177.6" stroke="#231815" stroke-width="1.85"/>
<line x1="560.28" y1="164.6" x2="560.28" y2="177.6" stroke="#231815" stroke-width="1.85"/>
<text x="563.28" y="155.3" text-anchor="middle" font-size="28" fill="#231815" textLength="29.46" lengthAdjust="spacingAndGlyphs">15</text>
<line x1="578.3" y1="170.6" x2="578.3" y2="177.6" stroke="#231815" stroke-width="1.85"/>
<line x1="596.32" y1="170.6" x2="596.32" y2="177.6" stroke="#231815" stroke-width="1.85"/>
<line x1="614.33" y1="170.6" x2="614.33" y2="177.6" stroke="#231815" stroke-width="1.85"/>
<line x1="632.35" y1="170.6" x2="632.35" y2="177.6" stroke="#231815" stroke-width="1.85"/>
<line x1="650.37" y1="164.6" x2="650.37" y2="177.6" stroke="#231815" stroke-width="1.85"/>
<text x="653.37" y="155.3" text-anchor="middle" font-size="28" fill="#231815" textLength="29.46" lengthAdjust="spacingAndGlyphs">20</text>
<line x1="668.39" y1="170.6" x2="668.39" y2="177.6" stroke="#231815" stroke-width="1.85"/>
<line x1="686.41" y1="170.6" x2="686.41" y2="177.6" stroke="#231815" stroke-width="1.85"/>
<line x1="704.43" y1="170.6" x2="704.43" y2="177.6" stroke="#231815" stroke-width="1.85"/>
<line x1="722.45" y1="170.6" x2="722.45" y2="177.6" stroke="#231815" stroke-width="1.85"/>
<line x1="740.46" y1="164.6" x2="740.46" y2="177.6" stroke="#231815" stroke-width="1.85"/>
<text x="743.46" y="155.3" text-anchor="middle" font-size="28" fill="#231815" textLength="29.46" lengthAdjust="spacingAndGlyphs">25</text>
<line x1="758.48" y1="170.6" x2="758.48" y2="177.6" stroke="#231815" stroke-width="1.85"/>
<line x1="776.5" y1="170.6" x2="776.5" y2="177.6" stroke="#231815" stroke-width="1.85"/>
<line x1="794.52" y1="170.6" x2="794.52" y2="177.6" stroke="#231815" stroke-width="1.85"/>
<line x1="812.54" y1="170.6" x2="812.54" y2="177.6" stroke="#231815" stroke-width="1.85"/>
<line x1="830.56" y1="164.6" x2="830.56" y2="177.6" stroke="#231815" stroke-width="1.85"/>
<text x="833.56" y="155.3" text-anchor="middle" font-size="28" fill="#231815" textLength="29.46" lengthAdjust="spacingAndGlyphs">30</text>
<line x1="848.58" y1="170.6" x2="848.58" y2="177.6" stroke="#231815" stroke-width="1.85"/>
<line x1="866.59" y1="170.6" x2="866.59" y2="177.6" stroke="#231815" stroke-width="1.85"/>
<line x1="884.61" y1="170.6" x2="884.61" y2="177.6" stroke="#231815" stroke-width="1.85"/>
<line x1="902.63" y1="170.6" x2="902.63" y2="177.6" stroke="#231815" stroke-width="1.85"/>
<line x1="920.65" y1="164.6" x2="920.65" y2="177.6" stroke="#231815" stroke-width="1.85"/>
<text x="923.65" y="155.3" text-anchor="middle" font-size="28" fill="#231815" textLength="29.46" lengthAdjust="spacingAndGlyphs">35</text>
<line x1="938.67" y1="170.6" x2="938.67" y2="177.6" stroke="#231815" stroke-width="1.85"/>
<line x1="956.69" y1="170.6" x2="956.69" y2="177.6" stroke="#231815" stroke-width="1.85"/>
<line x1="974.71" y1="170.6" x2="974.71" y2="177.6" stroke="#231815" stroke-width="1.85"/>
<line x1="992.72" y1="170.6" x2="992.72" y2="177.6" stroke="#231815" stroke-width="1.85"/>
<text x="957.6" y="154.4" text-anchor="start" font-size="25" font-weight="normal" fill="#231815" textLength="96.5" lengthAdjust="spacingAndGlyphs">US.GPM</text>
<line x1="290" y1="1034" x2="290" y2="1046.5" stroke="#231815" stroke-width="1.85"/>
<line x1="313.8" y1="1034" x2="313.8" y2="1040.7" stroke="#231815" stroke-width="1.85"/>
<line x1="337.6" y1="1034" x2="337.6" y2="1040.7" stroke="#231815" stroke-width="1.85"/>
<line x1="361.4" y1="1034" x2="361.4" y2="1040.7" stroke="#231815" stroke-width="1.85"/>
<line x1="385.2" y1="1034" x2="385.2" y2="1040.7" stroke="#231815" stroke-width="1.85"/>
<line x1="409" y1="1034" x2="409" y2="1046.5" stroke="#231815" stroke-width="1.85"/>
<line x1="432.8" y1="1034" x2="432.8" y2="1040.7" stroke="#231815" stroke-width="1.85"/>
<line x1="456.6" y1="1034" x2="456.6" y2="1040.7" stroke="#231815" stroke-width="1.85"/>
<line x1="480.4" y1="1034" x2="480.4" y2="1040.7" stroke="#231815" stroke-width="1.85"/>
<line x1="504.2" y1="1034" x2="504.2" y2="1040.7" stroke="#231815" stroke-width="1.85"/>
<line x1="528" y1="1034" x2="528" y2="1046.5" stroke="#231815" stroke-width="1.85"/>
<line x1="551.8" y1="1034" x2="551.8" y2="1040.7" stroke="#231815" stroke-width="1.85"/>
<line x1="575.6" y1="1034" x2="575.6" y2="1040.7" stroke="#231815" stroke-width="1.85"/>
<line x1="599.4" y1="1034" x2="599.4" y2="1040.7" stroke="#231815" stroke-width="1.85"/>
<line x1="623.2" y1="1034" x2="623.2" y2="1040.7" stroke="#231815" stroke-width="1.85"/>
<line x1="647" y1="1034" x2="647" y2="1046.5" stroke="#231815" stroke-width="1.85"/>
<line x1="670.8" y1="1034" x2="670.8" y2="1040.7" stroke="#231815" stroke-width="1.85"/>
<line x1="694.6" y1="1034" x2="694.6" y2="1040.7" stroke="#231815" stroke-width="1.85"/>
<line x1="718.4" y1="1034" x2="718.4" y2="1040.7" stroke="#231815" stroke-width="1.85"/>
<line x1="742.2" y1="1034" x2="742.2" y2="1040.7" stroke="#231815" stroke-width="1.85"/>
<line x1="766" y1="1034" x2="766" y2="1046.5" stroke="#231815" stroke-width="1.85"/>
<line x1="789.8" y1="1034" x2="789.8" y2="1040.7" stroke="#231815" stroke-width="1.85"/>
<line x1="813.6" y1="1034" x2="813.6" y2="1040.7" stroke="#231815" stroke-width="1.85"/>
<line x1="837.4" y1="1034" x2="837.4" y2="1040.7" stroke="#231815" stroke-width="1.85"/>
<line x1="861.2" y1="1034" x2="861.2" y2="1040.7" stroke="#231815" stroke-width="1.85"/>
<line x1="885" y1="1034" x2="885" y2="1046.5" stroke="#231815" stroke-width="1.85"/>
<line x1="908.8" y1="1034" x2="908.8" y2="1040.7" stroke="#231815" stroke-width="1.85"/>
<line x1="932.6" y1="1034" x2="932.6" y2="1040.7" stroke="#231815" stroke-width="1.85"/>
<line x1="956.4" y1="1034" x2="956.4" y2="1040.7" stroke="#231815" stroke-width="1.85"/>
<line x1="980.2" y1="1034" x2="980.2" y2="1040.7" stroke="#231815" stroke-width="1.85"/>
<line x1="1004" y1="1034" x2="1004" y2="1046.5" stroke="#231815" stroke-width="1.85"/>
<text x="291.4" y="1072.2" text-anchor="middle" font-size="28" fill="#231815" textLength="14.73" lengthAdjust="spacingAndGlyphs">0</text>
<text x="409.7" y="1072.2" text-anchor="middle" font-size="28" fill="#231815" textLength="36.83" lengthAdjust="spacingAndGlyphs">1.5</text>
<text x="529.4" y="1072.2" text-anchor="middle" font-size="28" fill="#231815" textLength="14.73" lengthAdjust="spacingAndGlyphs">3</text>
<text x="647.7" y="1072.2" text-anchor="middle" font-size="28" fill="#231815" textLength="36.83" lengthAdjust="spacingAndGlyphs">4.5</text>
<text x="767.4" y="1072.2" text-anchor="middle" font-size="28" fill="#231815" textLength="14.73" lengthAdjust="spacingAndGlyphs">6</text>
<text x="885.7" y="1072.2" text-anchor="middle" font-size="28" fill="#231815" textLength="36.83" lengthAdjust="spacingAndGlyphs">7.5</text>
<text x="1005.4" y="1072.2" text-anchor="middle" font-size="28" fill="#231815" textLength="14.73" lengthAdjust="spacingAndGlyphs">9</text>
<text x="1023.6" y="1072.2" font-size="25.0" fill="#231815" textLength="89.5" lengthAdjust="spacingAndGlyphs">Q(m<tspan font-size="17" dy="-8">3</tspan><tspan dy="8">/h)</tspan></text>
<rect x="795.6" y="177.3" width="209.4" height="61.9" fill="#2253a5"/>
<text x="827.1" y="221.2" text-anchor="start" font-size="38.4" font-weight="bold" fill="#fff" textLength="145" lengthAdjust="spacingAndGlyphs">R95-GT6</text>
<g font-weight="bold" font-size="26.0" text-anchor="middle" fill="#231815" stroke="#fff" stroke-width="8.4" stroke-linejoin="round" paint-order="stroke">
<text x="357.7" y="339.9">11</text>
<text x="357.7" y="391.9">10</text>
<text x="357.7" y="457.7">09</text>
<text x="357.7" y="530.2">08</text>
<text x="357.7" y="586.8">07</text>
<text x="357.7" y="654.5">06</text>
<text x="357.7" y="717">05</text>
<text x="357.7" y="782.2">04</text>
</g>
<line x1="289" y1="1105.6" x2="1005" y2="1105.6" stroke="#231815" stroke-width="1.85"/>
<line x1="290" y1="1105.6" x2="290" y2="1116.1" stroke="#231815" stroke-width="1.85"/>
<line x1="313.8" y1="1105.6" x2="313.8" y2="1110.6" stroke="#231815" stroke-width="1.85"/>
<line x1="337.6" y1="1105.6" x2="337.6" y2="1110.6" stroke="#231815" stroke-width="1.85"/>
<line x1="361.4" y1="1105.6" x2="361.4" y2="1110.6" stroke="#231815" stroke-width="1.85"/>
<line x1="385.2" y1="1105.6" x2="385.2" y2="1110.6" stroke="#231815" stroke-width="1.85"/>
<line x1="409" y1="1105.6" x2="409" y2="1110.6" stroke="#231815" stroke-width="1.85"/>
<line x1="432.8" y1="1105.6" x2="432.8" y2="1116.1" stroke="#231815" stroke-width="1.85"/>
<line x1="456.6" y1="1105.6" x2="456.6" y2="1110.6" stroke="#231815" stroke-width="1.85"/>
<line x1="480.4" y1="1105.6" x2="480.4" y2="1110.6" stroke="#231815" stroke-width="1.85"/>
<line x1="504.2" y1="1105.6" x2="504.2" y2="1110.6" stroke="#231815" stroke-width="1.85"/>
<line x1="528" y1="1105.6" x2="528" y2="1110.6" stroke="#231815" stroke-width="1.85"/>
<line x1="551.8" y1="1105.6" x2="551.8" y2="1110.6" stroke="#231815" stroke-width="1.85"/>
<line x1="575.6" y1="1105.6" x2="575.6" y2="1116.1" stroke="#231815" stroke-width="1.85"/>
<line x1="599.4" y1="1105.6" x2="599.4" y2="1110.6" stroke="#231815" stroke-width="1.85"/>
<line x1="623.2" y1="1105.6" x2="623.2" y2="1110.6" stroke="#231815" stroke-width="1.85"/>
<line x1="647" y1="1105.6" x2="647" y2="1110.6" stroke="#231815" stroke-width="1.85"/>
<line x1="670.8" y1="1105.6" x2="670.8" y2="1110.6" stroke="#231815" stroke-width="1.85"/>
<line x1="694.6" y1="1105.6" x2="694.6" y2="1110.6" stroke="#231815" stroke-width="1.85"/>
<line x1="718.4" y1="1105.6" x2="718.4" y2="1116.1" stroke="#231815" stroke-width="1.85"/>
<line x1="742.2" y1="1105.6" x2="742.2" y2="1110.6" stroke="#231815" stroke-width="1.85"/>
<line x1="766" y1="1105.6" x2="766" y2="1110.6" stroke="#231815" stroke-width="1.85"/>
<line x1="789.8" y1="1105.6" x2="789.8" y2="1110.6" stroke="#231815" stroke-width="1.85"/>
<line x1="813.6" y1="1105.6" x2="813.6" y2="1110.6" stroke="#231815" stroke-width="1.85"/>
<line x1="837.4" y1="1105.6" x2="837.4" y2="1110.6" stroke="#231815" stroke-width="1.85"/>
<line x1="861.2" y1="1105.6" x2="861.2" y2="1116.1" stroke="#231815" stroke-width="1.85"/>
<line x1="885" y1="1105.6" x2="885" y2="1110.6" stroke="#231815" stroke-width="1.85"/>
<line x1="908.8" y1="1105.6" x2="908.8" y2="1110.6" stroke="#231815" stroke-width="1.85"/>
<line x1="932.6" y1="1105.6" x2="932.6" y2="1110.6" stroke="#231815" stroke-width="1.85"/>
<line x1="956.4" y1="1105.6" x2="956.4" y2="1110.6" stroke="#231815" stroke-width="1.85"/>
<line x1="980.2" y1="1105.6" x2="980.2" y2="1110.6" stroke="#231815" stroke-width="1.85"/>
<line x1="1004" y1="1105.6" x2="1004" y2="1116.1" stroke="#231815" stroke-width="1.85"/>
<text x="292" y="1143" text-anchor="middle" font-size="28" fill="#231815" textLength="14.73" lengthAdjust="spacingAndGlyphs">0</text>
<text x="434.8" y="1143" text-anchor="middle" font-size="28" fill="#231815" textLength="29.46" lengthAdjust="spacingAndGlyphs">30</text>
<text x="577.6" y="1143" text-anchor="middle" font-size="28" fill="#231815" textLength="29.46" lengthAdjust="spacingAndGlyphs">60</text>
<text x="720.4" y="1143" text-anchor="middle" font-size="28" fill="#231815" textLength="29.46" lengthAdjust="spacingAndGlyphs">90</text>
<text x="863.2" y="1143" text-anchor="middle" font-size="28" fill="#231815" textLength="44.19" lengthAdjust="spacingAndGlyphs">120</text>
<text x="1006" y="1143" text-anchor="middle" font-size="28" fill="#231815" textLength="44.19" lengthAdjust="spacingAndGlyphs">150</text>
<text x="1035" y="1142.8" text-anchor="start" font-size="25" font-weight="normal" fill="#231815" textLength="105" lengthAdjust="spacingAndGlyphs">Q(L/min)</text>
<line x1="313.8" y1="1177" x2="313.8" y2="1363.4" stroke="#d9d9d9" stroke-width="1.3"/>
<line x1="337.6" y1="1177" x2="337.6" y2="1363.4" stroke="#d9d9d9" stroke-width="1.3"/>
<line x1="361.4" y1="1177" x2="361.4" y2="1363.4" stroke="#d9d9d9" stroke-width="1.3"/>
<line x1="385.2" y1="1177" x2="385.2" y2="1363.4" stroke="#d9d9d9" stroke-width="1.3"/>
<line x1="409" y1="1177" x2="409" y2="1363.4" stroke="#969696" stroke-width="1.35"/>
<line x1="432.8" y1="1177" x2="432.8" y2="1363.4" stroke="#d9d9d9" stroke-width="1.3"/>
<line x1="456.6" y1="1177" x2="456.6" y2="1363.4" stroke="#d9d9d9" stroke-width="1.3"/>
<line x1="480.4" y1="1177" x2="480.4" y2="1363.4" stroke="#d9d9d9" stroke-width="1.3"/>
<line x1="504.2" y1="1177" x2="504.2" y2="1363.4" stroke="#d9d9d9" stroke-width="1.3"/>
<line x1="528" y1="1177" x2="528" y2="1363.4" stroke="#969696" stroke-width="1.35"/>
<line x1="551.8" y1="1177" x2="551.8" y2="1363.4" stroke="#d9d9d9" stroke-width="1.3"/>
<line x1="575.6" y1="1177" x2="575.6" y2="1363.4" stroke="#d9d9d9" stroke-width="1.3"/>
<line x1="599.4" y1="1177" x2="599.4" y2="1363.4" stroke="#d9d9d9" stroke-width="1.3"/>
<line x1="623.2" y1="1177" x2="623.2" y2="1363.4" stroke="#d9d9d9" stroke-width="1.3"/>
<line x1="647" y1="1177" x2="647" y2="1363.4" stroke="#969696" stroke-width="1.35"/>
<line x1="670.8" y1="1177" x2="670.8" y2="1363.4" stroke="#d9d9d9" stroke-width="1.3"/>
<line x1="694.6" y1="1177" x2="694.6" y2="1363.4" stroke="#d9d9d9" stroke-width="1.3"/>
<line x1="718.4" y1="1177" x2="718.4" y2="1363.4" stroke="#d9d9d9" stroke-width="1.3"/>
<line x1="742.2" y1="1177" x2="742.2" y2="1363.4" stroke="#d9d9d9" stroke-width="1.3"/>
<line x1="766" y1="1177" x2="766" y2="1363.4" stroke="#969696" stroke-width="1.35"/>
<line x1="789.8" y1="1177" x2="789.8" y2="1363.4" stroke="#d9d9d9" stroke-width="1.3"/>
<line x1="813.6" y1="1177" x2="813.6" y2="1363.4" stroke="#d9d9d9" stroke-width="1.3"/>
<line x1="837.4" y1="1177" x2="837.4" y2="1363.4" stroke="#d9d9d9" stroke-width="1.3"/>
<line x1="861.2" y1="1177" x2="861.2" y2="1363.4" stroke="#d9d9d9" stroke-width="1.3"/>
<line x1="885" y1="1177" x2="885" y2="1363.4" stroke="#969696" stroke-width="1.35"/>
<line x1="908.8" y1="1177" x2="908.8" y2="1363.4" stroke="#d9d9d9" stroke-width="1.3"/>
<line x1="932.6" y1="1177" x2="932.6" y2="1363.4" stroke="#d9d9d9" stroke-width="1.3"/>
<line x1="956.4" y1="1177" x2="956.4" y2="1363.4" stroke="#d9d9d9" stroke-width="1.3"/>
<line x1="980.2" y1="1177" x2="980.2" y2="1363.4" stroke="#d9d9d9" stroke-width="1.3"/>
<line x1="290" y1="1340.1" x2="1004" y2="1340.1" stroke="#d9d9d9" stroke-width="1.3"/>
<line x1="290" y1="1316.8" x2="1004" y2="1316.8" stroke="#969696" stroke-width="1.35"/>
<line x1="290" y1="1293.5" x2="1004" y2="1293.5" stroke="#d9d9d9" stroke-width="1.3"/>
<line x1="290" y1="1270.2" x2="1004" y2="1270.2" stroke="#969696" stroke-width="1.35"/>
<line x1="290" y1="1246.9" x2="1004" y2="1246.9" stroke="#d9d9d9" stroke-width="1.3"/>
<line x1="290" y1="1223.6" x2="1004" y2="1223.6" stroke="#969696" stroke-width="1.35"/>
<line x1="290" y1="1200.3" x2="1004" y2="1200.3" stroke="#d9d9d9" stroke-width="1.3"/>
<path d="M290 1363.4 L294.79 1360.39 L299.59 1357.37 L304.38 1354.37 L309.18 1351.36 L313.97 1348.37 L318.77 1345.38 L323.56 1342.4 L328.35 1339.43 L333.15 1336.48 L337.94 1333.54 L342.74 1330.62 L347.53 1327.72 L352.33 1324.84 L357.12 1321.98 L361.91 1319.14 L366.71 1316.33 L371.5 1313.55 L376.3 1310.79 L381.09 1308.07 L385.88 1305.38 L390.68 1302.72 L395.47 1300.09 L400.27 1297.51 L405.06 1294.96 L409.86 1292.46 L414.65 1289.99 L419.44 1287.57 L424.24 1285.18 L429.03 1282.84 L433.83 1280.54 L438.62 1278.27 L443.42 1276.04 L448.21 1273.85 L453 1271.7 L457.8 1269.58 L462.59 1267.5 L467.39 1265.45 L472.18 1263.43 L476.98 1261.45 L481.77 1259.5 L486.56 1257.58 L491.36 1255.69 L496.15 1253.83 L500.95 1252 L505.74 1250.2 L510.54 1248.43 L515.33 1246.68 L520.12 1244.97 L524.92 1243.27 L529.71 1241.61 L534.51 1239.97 L539.3 1238.35 L544.09 1236.76 L548.89 1235.2 L553.68 1233.67 L558.48 1232.17 L563.27 1230.7 L568.07 1229.26 L572.86 1227.86 L577.65 1226.49 L582.45 1225.15 L587.24 1223.85 L592.04 1222.58 L596.83 1221.36 L601.63 1220.17 L606.42 1219.02 L611.21 1217.91 L616.01 1216.84 L620.8 1215.82 L625.6 1214.83 L630.39 1213.9 L635.19 1213 L639.98 1212.16 L644.77 1211.36 L649.57 1210.6 L654.36 1209.9 L659.16 1209.24 L663.95 1208.63 L668.75 1208.07 L673.54 1207.55 L678.33 1207.07 L683.13 1206.64 L687.92 1206.26 L692.72 1205.91 L697.51 1205.61 L702.31 1205.35 L707.1 1205.12 L711.89 1204.94 L716.69 1204.8 L721.48 1204.7 L726.28 1204.63 L731.07 1204.6 L735.86 1204.61 L740.66 1204.65 L745.45 1204.74 L750.25 1204.87 L755.04 1205.04 L759.84 1205.25 L764.63 1205.52 L769.42 1205.83 L774.22 1206.19 L779.01 1206.6 L783.81 1207.07 L788.6 1207.58 L793.4 1208.14 L798.19 1208.76 L802.98 1209.43 L807.78 1210.16 L812.57 1210.93 L817.37 1211.76 L822.16 1212.64 L826.96 1213.58 L831.75 1214.57 L836.54 1215.62 L841.34 1216.73 L846.13 1217.88 L850.93 1219.1 L855.72 1220.37 L860.52 1221.7 L865.31 1223.09 L870.1 1224.53 L874.9 1226.04 L879.69 1227.6 L884.49 1229.22 L889.28 1230.9 L894.07 1232.64 L898.87 1234.43 L903.66 1236.27 L908.46 1238.15 L913.25 1240.07 L918.05 1242.03 L922.84 1244.01 L927.63 1246.03 L932.43 1248.07 L937.22 1250.13 L942.02 1252.21 L946.81 1254.3 L951.61 1256.4 L956.4 1258.5" fill="none" stroke="#2253a5" stroke-width="3.6"/>
<line x1="290" y1="1176" x2="290" y2="1364.4" stroke="#231815" stroke-width="1.85"/>
<line x1="279.5" y1="1363.4" x2="1005" y2="1363.4" stroke="#231815" stroke-width="1.85"/>
<line x1="279.5" y1="1177" x2="1004.75" y2="1177" stroke="#231815" stroke-width="1.6"/>
<line x1="1004" y1="1177" x2="1004" y2="1364.4" stroke="#231815" stroke-width="1.6"/>
<line x1="279.5" y1="1363.4" x2="290" y2="1363.4" stroke="#231815" stroke-width="1.85"/>
<line x1="279.5" y1="1340.1" x2="290" y2="1340.1" stroke="#231815" stroke-width="1.85"/>
<line x1="279.5" y1="1316.8" x2="290" y2="1316.8" stroke="#231815" stroke-width="1.85"/>
<line x1="279.5" y1="1293.5" x2="290" y2="1293.5" stroke="#231815" stroke-width="1.85"/>
<line x1="279.5" y1="1270.2" x2="290" y2="1270.2" stroke="#231815" stroke-width="1.85"/>
<line x1="279.5" y1="1246.9" x2="290" y2="1246.9" stroke="#231815" stroke-width="1.85"/>
<line x1="279.5" y1="1223.6" x2="290" y2="1223.6" stroke="#231815" stroke-width="1.85"/>
<line x1="279.5" y1="1200.3" x2="290" y2="1200.3" stroke="#231815" stroke-width="1.85"/>
<line x1="279.5" y1="1177" x2="290" y2="1177" stroke="#231815" stroke-width="1.85"/>
<text x="272.5" y="1372.8" text-anchor="end" font-size="28" fill="#231815" textLength="14.73" lengthAdjust="spacingAndGlyphs">0</text>
<text x="272.5" y="1326.2" text-anchor="end" font-size="28" fill="#231815" textLength="29.46" lengthAdjust="spacingAndGlyphs">20</text>
<text x="272.5" y="1279.6" text-anchor="end" font-size="28" fill="#231815" textLength="29.46" lengthAdjust="spacingAndGlyphs">40</text>
<text x="272.5" y="1233" text-anchor="end" font-size="28" fill="#231815" textLength="29.46" lengthAdjust="spacingAndGlyphs">60</text>
<text x="272.5" y="1186.4" text-anchor="end" font-size="28" fill="#231815" textLength="29.46" lengthAdjust="spacingAndGlyphs">80</text>
<text x="160.7" y="1186" text-anchor="start" font-size="25" font-weight="normal" fill="#231815" textLength="75" lengthAdjust="spacingAndGlyphs">Eta(%)</text>
<line x1="290" y1="1363.4" x2="290" y2="1373.6" stroke="#231815" stroke-width="1.85"/>
<line x1="313.8" y1="1363.4" x2="313.8" y2="1368.6" stroke="#231815" stroke-width="1.85"/>
<line x1="337.6" y1="1363.4" x2="337.6" y2="1368.6" stroke="#231815" stroke-width="1.85"/>
<line x1="361.4" y1="1363.4" x2="361.4" y2="1368.6" stroke="#231815" stroke-width="1.85"/>
<line x1="385.2" y1="1363.4" x2="385.2" y2="1368.6" stroke="#231815" stroke-width="1.85"/>
<line x1="409" y1="1363.4" x2="409" y2="1373.6" stroke="#231815" stroke-width="1.85"/>
<line x1="432.8" y1="1363.4" x2="432.8" y2="1368.6" stroke="#231815" stroke-width="1.85"/>
<line x1="456.6" y1="1363.4" x2="456.6" y2="1368.6" stroke="#231815" stroke-width="1.85"/>
<line x1="480.4" y1="1363.4" x2="480.4" y2="1368.6" stroke="#231815" stroke-width="1.85"/>
<line x1="504.2" y1="1363.4" x2="504.2" y2="1368.6" stroke="#231815" stroke-width="1.85"/>
<line x1="528" y1="1363.4" x2="528" y2="1373.6" stroke="#231815" stroke-width="1.85"/>
<line x1="551.8" y1="1363.4" x2="551.8" y2="1368.6" stroke="#231815" stroke-width="1.85"/>
<line x1="575.6" y1="1363.4" x2="575.6" y2="1368.6" stroke="#231815" stroke-width="1.85"/>
<line x1="599.4" y1="1363.4" x2="599.4" y2="1368.6" stroke="#231815" stroke-width="1.85"/>
<line x1="623.2" y1="1363.4" x2="623.2" y2="1368.6" stroke="#231815" stroke-width="1.85"/>
<line x1="647" y1="1363.4" x2="647" y2="1373.6" stroke="#231815" stroke-width="1.85"/>
<line x1="670.8" y1="1363.4" x2="670.8" y2="1368.6" stroke="#231815" stroke-width="1.85"/>
<line x1="694.6" y1="1363.4" x2="694.6" y2="1368.6" stroke="#231815" stroke-width="1.85"/>
<line x1="718.4" y1="1363.4" x2="718.4" y2="1368.6" stroke="#231815" stroke-width="1.85"/>
<line x1="742.2" y1="1363.4" x2="742.2" y2="1368.6" stroke="#231815" stroke-width="1.85"/>
<line x1="766" y1="1363.4" x2="766" y2="1373.6" stroke="#231815" stroke-width="1.85"/>
<line x1="789.8" y1="1363.4" x2="789.8" y2="1368.6" stroke="#231815" stroke-width="1.85"/>
<line x1="813.6" y1="1363.4" x2="813.6" y2="1368.6" stroke="#231815" stroke-width="1.85"/>
<line x1="837.4" y1="1363.4" x2="837.4" y2="1368.6" stroke="#231815" stroke-width="1.85"/>
<line x1="861.2" y1="1363.4" x2="861.2" y2="1368.6" stroke="#231815" stroke-width="1.85"/>
<line x1="885" y1="1363.4" x2="885" y2="1373.6" stroke="#231815" stroke-width="1.85"/>
<line x1="908.8" y1="1363.4" x2="908.8" y2="1368.6" stroke="#231815" stroke-width="1.85"/>
<line x1="932.6" y1="1363.4" x2="932.6" y2="1368.6" stroke="#231815" stroke-width="1.85"/>
<line x1="956.4" y1="1363.4" x2="956.4" y2="1368.6" stroke="#231815" stroke-width="1.85"/>
<line x1="980.2" y1="1363.4" x2="980.2" y2="1368.6" stroke="#231815" stroke-width="1.85"/>
<line x1="1004" y1="1363.4" x2="1004" y2="1373.6" stroke="#231815" stroke-width="1.85"/>
<text x="290.4" y="1400.8" text-anchor="middle" font-size="28" fill="#231815" textLength="14.73" lengthAdjust="spacingAndGlyphs">0</text>
<text x="409.7" y="1400.8" text-anchor="middle" font-size="28" fill="#231815" textLength="36.83" lengthAdjust="spacingAndGlyphs">1.5</text>
<text x="528.4" y="1400.8" text-anchor="middle" font-size="28" fill="#231815" textLength="14.73" lengthAdjust="spacingAndGlyphs">3</text>
<text x="647.7" y="1400.8" text-anchor="middle" font-size="28" fill="#231815" textLength="36.83" lengthAdjust="spacingAndGlyphs">4.5</text>
<text x="766.4" y="1400.8" text-anchor="middle" font-size="28" fill="#231815" textLength="14.73" lengthAdjust="spacingAndGlyphs">6</text>
<text x="885.7" y="1400.8" text-anchor="middle" font-size="28" fill="#231815" textLength="36.83" lengthAdjust="spacingAndGlyphs">7.5</text>
<text x="1004.4" y="1400.8" text-anchor="middle" font-size="28" fill="#231815" textLength="14.73" lengthAdjust="spacingAndGlyphs">9</text>
<text x="1023.6" y="1400.8" font-size="25.0" fill="#231815" textLength="89.5" lengthAdjust="spacingAndGlyphs">Q(m<tspan font-size="17" dy="-8">3</tspan><tspan dy="8">/h)</tspan></text>
<g shape-rendering="auto">
<line x1="311.51" y1="1584.6" x2="311.51" y2="2441.2" stroke="#d9d9d9" stroke-width="1.3"/>
<line x1="335.32" y1="1584.6" x2="335.32" y2="2441.2" stroke="#d9d9d9" stroke-width="1.3"/>
<line x1="359.13" y1="1584.6" x2="359.13" y2="2441.2" stroke="#d9d9d9" stroke-width="1.3"/>
<line x1="382.94" y1="1584.6" x2="382.94" y2="2441.2" stroke="#d9d9d9" stroke-width="1.3"/>
<line x1="406.75" y1="1584.6" x2="406.75" y2="2441.2" stroke="#969696" stroke-width="1.35"/>
<line x1="430.56" y1="1584.6" x2="430.56" y2="2441.2" stroke="#d9d9d9" stroke-width="1.3"/>
<line x1="454.37" y1="1584.6" x2="454.37" y2="2441.2" stroke="#d9d9d9" stroke-width="1.3"/>
<line x1="478.18" y1="1584.6" x2="478.18" y2="2441.2" stroke="#d9d9d9" stroke-width="1.3"/>
<line x1="501.99" y1="1584.6" x2="501.99" y2="2441.2" stroke="#d9d9d9" stroke-width="1.3"/>
<line x1="525.8" y1="1584.6" x2="525.8" y2="2441.2" stroke="#969696" stroke-width="1.35"/>
<line x1="549.61" y1="1584.6" x2="549.61" y2="2441.2" stroke="#d9d9d9" stroke-width="1.3"/>
<line x1="573.42" y1="1584.6" x2="573.42" y2="2441.2" stroke="#d9d9d9" stroke-width="1.3"/>
<line x1="597.23" y1="1584.6" x2="597.23" y2="2441.2" stroke="#d9d9d9" stroke-width="1.3"/>
<line x1="621.04" y1="1584.6" x2="621.04" y2="2441.2" stroke="#d9d9d9" stroke-width="1.3"/>
<line x1="644.85" y1="1584.6" x2="644.85" y2="2441.2" stroke="#969696" stroke-width="1.35"/>
<line x1="668.66" y1="1584.6" x2="668.66" y2="2441.2" stroke="#d9d9d9" stroke-width="1.3"/>
<line x1="692.47" y1="1584.6" x2="692.47" y2="2441.2" stroke="#d9d9d9" stroke-width="1.3"/>
<line x1="716.28" y1="1584.6" x2="716.28" y2="2441.2" stroke="#d9d9d9" stroke-width="1.3"/>
<line x1="740.09" y1="1584.6" x2="740.09" y2="2441.2" stroke="#d9d9d9" stroke-width="1.3"/>
<line x1="763.9" y1="1584.6" x2="763.9" y2="2441.2" stroke="#969696" stroke-width="1.35"/>
<line x1="787.71" y1="1584.6" x2="787.71" y2="2441.2" stroke="#d9d9d9" stroke-width="1.3"/>
<line x1="811.52" y1="1584.6" x2="811.52" y2="2441.2" stroke="#d9d9d9" stroke-width="1.3"/>
<line x1="835.33" y1="1584.6" x2="835.33" y2="2441.2" stroke="#d9d9d9" stroke-width="1.3"/>
<line x1="859.14" y1="1584.6" x2="859.14" y2="2441.2" stroke="#d9d9d9" stroke-width="1.3"/>
<line x1="882.95" y1="1584.6" x2="882.95" y2="2441.2" stroke="#969696" stroke-width="1.35"/>
<line x1="906.76" y1="1584.6" x2="906.76" y2="2441.2" stroke="#d9d9d9" stroke-width="1.3"/>
<line x1="930.57" y1="1584.6" x2="930.57" y2="2441.2" stroke="#d9d9d9" stroke-width="1.3"/>
<line x1="954.38" y1="1584.6" x2="954.38" y2="2441.2" stroke="#d9d9d9" stroke-width="1.3"/>
<line x1="978.19" y1="1584.6" x2="978.19" y2="2441.2" stroke="#d9d9d9" stroke-width="1.3"/>
<line x1="287.7" y1="2419.78" x2="1002" y2="2419.78" stroke="#d9d9d9" stroke-width="1.3"/>
<line x1="287.7" y1="2398.37" x2="1002" y2="2398.37" stroke="#d9d9d9" stroke-width="1.3"/>
<line x1="287.7" y1="2376.95" x2="1002" y2="2376.95" stroke="#d9d9d9" stroke-width="1.3"/>
<line x1="287.7" y1="2355.54" x2="1002" y2="2355.54" stroke="#d9d9d9" stroke-width="1.3"/>
<line x1="287.7" y1="2334.12" x2="1002" y2="2334.12" stroke="#969696" stroke-width="1.35"/>
<line x1="287.7" y1="2312.71" x2="1002" y2="2312.71" stroke="#d9d9d9" stroke-width="1.3"/>
<line x1="287.7" y1="2291.3" x2="1002" y2="2291.3" stroke="#d9d9d9" stroke-width="1.3"/>
<line x1="287.7" y1="2269.88" x2="1002" y2="2269.88" stroke="#d9d9d9" stroke-width="1.3"/>
<line x1="287.7" y1="2248.46" x2="1002" y2="2248.46" stroke="#d9d9d9" stroke-width="1.3"/>
<line x1="287.7" y1="2227.05" x2="1002" y2="2227.05" stroke="#969696" stroke-width="1.35"/>
<line x1="287.7" y1="2205.63" x2="1002" y2="2205.63" stroke="#d9d9d9" stroke-width="1.3"/>
<line x1="287.7" y1="2184.22" x2="1002" y2="2184.22" stroke="#d9d9d9" stroke-width="1.3"/>
<line x1="287.7" y1="2162.8" x2="1002" y2="2162.8" stroke="#d9d9d9" stroke-width="1.3"/>
<line x1="287.7" y1="2141.39" x2="1002" y2="2141.39" stroke="#d9d9d9" stroke-width="1.3"/>
<line x1="287.7" y1="2119.97" x2="1002" y2="2119.97" stroke="#969696" stroke-width="1.35"/>
<line x1="287.7" y1="2098.56" x2="1002" y2="2098.56" stroke="#d9d9d9" stroke-width="1.3"/>
<line x1="287.7" y1="2077.14" x2="1002" y2="2077.14" stroke="#d9d9d9" stroke-width="1.3"/>
<line x1="287.7" y1="2055.73" x2="1002" y2="2055.73" stroke="#d9d9d9" stroke-width="1.3"/>
<line x1="287.7" y1="2034.31" x2="1002" y2="2034.31" stroke="#d9d9d9" stroke-width="1.3"/>
<line x1="287.7" y1="2012.9" x2="1002" y2="2012.9" stroke="#969696" stroke-width="1.35"/>
<line x1="287.7" y1="1991.48" x2="1002" y2="1991.48" stroke="#d9d9d9" stroke-width="1.3"/>
<line x1="287.7" y1="1970.07" x2="1002" y2="1970.07" stroke="#d9d9d9" stroke-width="1.3"/>
<line x1="287.7" y1="1948.65" x2="1002" y2="1948.65" stroke="#d9d9d9" stroke-width="1.3"/>
<line x1="287.7" y1="1927.24" x2="1002" y2="1927.24" stroke="#d9d9d9" stroke-width="1.3"/>
<line x1="287.7" y1="1905.82" x2="1002" y2="1905.82" stroke="#969696" stroke-width="1.35"/>
<line x1="287.7" y1="1884.41" x2="1002" y2="1884.41" stroke="#d9d9d9" stroke-width="1.3"/>
<line x1="287.7" y1="1862.99" x2="1002" y2="1862.99" stroke="#d9d9d9" stroke-width="1.3"/>
<line x1="287.7" y1="1841.58" x2="1002" y2="1841.58" stroke="#d9d9d9" stroke-width="1.3"/>
<line x1="287.7" y1="1820.16" x2="1002" y2="1820.16" stroke="#d9d9d9" stroke-width="1.3"/>
<line x1="287.7" y1="1798.75" x2="1002" y2="1798.75" stroke="#969696" stroke-width="1.35"/>
<line x1="287.7" y1="1777.34" x2="1002" y2="1777.34" stroke="#d9d9d9" stroke-width="1.3"/>
<line x1="287.7" y1="1755.92" x2="1002" y2="1755.92" stroke="#d9d9d9" stroke-width="1.3"/>
<line x1="287.7" y1="1734.5" x2="1002" y2="1734.5" stroke="#d9d9d9" stroke-width="1.3"/>
<line x1="287.7" y1="1713.09" x2="1002" y2="1713.09" stroke="#d9d9d9" stroke-width="1.3"/>
<line x1="287.7" y1="1691.67" x2="1002" y2="1691.67" stroke="#969696" stroke-width="1.35"/>
<line x1="287.7" y1="1670.26" x2="1002" y2="1670.26" stroke="#d9d9d9" stroke-width="1.3"/>
<line x1="287.7" y1="1648.84" x2="1002" y2="1648.84" stroke="#d9d9d9" stroke-width="1.3"/>
<line x1="287.7" y1="1627.43" x2="1002" y2="1627.43" stroke="#d9d9d9" stroke-width="1.3"/>
<line x1="287.7" y1="1606.01" x2="1002" y2="1606.01" stroke="#d9d9d9" stroke-width="1.3"/>
</g>
<g fill="none" stroke="#2253a5" stroke-width="3.6" stroke-linecap="butt" stroke-linejoin="round">
<path d="M287.7 1687.1 L292.5 1687.19 L297.29 1687.28 L302.09 1687.39 L306.89 1687.52 L311.68 1687.68 L316.48 1687.88 L321.27 1688.13 L326.07 1688.43 L330.87 1688.79 L335.66 1689.22 L340.46 1689.73 L345.26 1690.32 L350.05 1690.98 L354.85 1691.72 L359.64 1692.53 L364.44 1693.4 L369.24 1694.33 L374.03 1695.31 L378.83 1696.35 L383.63 1697.44 L388.42 1698.57 L393.22 1699.73 L398.01 1700.94 L402.81 1702.17 L407.61 1703.43 L412.4 1704.71 L417.2 1706.02 L422 1707.35 L426.79 1708.71 L431.59 1710.1 L436.38 1711.53 L441.18 1712.98 L445.98 1714.47 L450.77 1716 L455.57 1717.56 L460.37 1719.17 L465.16 1720.81 L469.96 1722.5 L474.75 1724.24 L479.55 1726.02 L484.35 1727.85 L489.14 1729.72 L493.94 1731.65 L498.74 1733.64 L503.53 1735.67 L508.33 1737.77 L513.12 1739.92 L517.92 1742.13 L522.72 1744.41 L527.51 1746.74 L532.31 1749.14 L537.11 1751.61 L541.9 1754.13 L546.7 1756.72 L551.49 1759.37 L556.29 1762.09 L561.09 1764.86 L565.88 1767.7 L570.68 1770.6 L575.48 1773.55 L580.27 1776.57 L585.07 1779.65 L589.86 1782.78 L594.66 1785.98 L599.46 1789.23 L604.25 1792.54 L609.05 1795.91 L613.85 1799.33 L618.64 1802.81 L623.44 1806.34 L628.23 1809.94 L633.03 1813.58 L637.83 1817.28 L642.62 1821.04 L647.42 1824.85 L652.22 1828.71 L657.01 1832.63 L661.81 1836.6 L666.6 1840.63 L671.4 1844.72 L676.2 1848.87 L680.99 1853.07 L685.79 1857.34 L690.59 1861.66 L695.38 1866.05 L700.18 1870.5 L704.97 1875.02 L709.77 1879.6 L714.57 1884.24 L719.36 1888.95 L724.16 1893.73 L728.96 1898.57 L733.75 1903.49 L738.55 1908.47 L743.34 1913.52 L748.14 1918.65 L752.94 1923.85 L757.73 1929.12 L762.53 1934.46 L767.33 1939.88 L772.12 1945.37 L776.92 1950.94 L781.71 1956.58 L786.51 1962.3 L791.31 1968.09 L796.1 1973.96 L800.9 1979.9 L805.7 1985.92 L810.49 1992.01 L815.29 1998.18 L820.08 2004.42 L824.88 2010.73 L829.68 2017.12 L834.47 2023.59 L839.27 2030.13 L844.07 2036.74 L848.86 2043.43 L853.66 2050.19 L858.45 2057.03 L863.25 2063.94 L868.05 2070.92 L872.84 2077.98 L877.64 2085.12 L882.44 2092.32 L887.23 2099.6 L892.03 2106.96 L896.82 2114.37 L901.62 2121.85 L906.42 2129.38 L911.21 2136.96 L916.01 2144.58 L920.81 2152.25 L925.6 2159.95 L930.4 2167.68 L935.19 2175.43 L939.99 2183.21 L944.79 2191 L949.58 2198.8 L954.38 2206.6"/>
<path d="M287.7 1808.4 L292.5 1808.97 L297.29 1809.53 L302.09 1810.1 L306.89 1810.68 L311.68 1811.26 L316.48 1811.84 L321.27 1812.43 L326.07 1813.03 L330.87 1813.64 L335.66 1814.26 L340.46 1814.89 L345.26 1815.54 L350.05 1816.2 L354.85 1816.87 L359.64 1817.56 L364.44 1818.27 L369.24 1819 L374.03 1819.75 L378.83 1820.52 L383.63 1821.32 L388.42 1822.13 L393.22 1822.98 L398.01 1823.85 L402.81 1824.74 L407.61 1825.67 L412.4 1826.62 L417.2 1827.61 L422 1828.62 L426.79 1829.67 L431.59 1830.75 L436.38 1831.86 L441.18 1833.01 L445.98 1834.18 L450.77 1835.4 L455.57 1836.64 L460.37 1837.93 L465.16 1839.24 L469.96 1840.6 L474.75 1841.99 L479.55 1843.41 L484.35 1844.88 L489.14 1846.38 L493.94 1847.93 L498.74 1849.51 L503.53 1851.13 L508.33 1852.79 L513.12 1854.5 L517.92 1856.24 L522.72 1858.03 L527.51 1859.86 L532.31 1861.73 L537.11 1863.65 L541.9 1865.61 L546.7 1867.61 L551.49 1869.67 L556.29 1871.76 L561.09 1873.91 L565.88 1876.1 L570.68 1878.34 L575.48 1880.63 L580.27 1882.97 L585.07 1885.36 L589.86 1887.8 L594.66 1890.29 L599.46 1892.83 L604.25 1895.43 L609.05 1898.08 L613.85 1900.78 L618.64 1903.54 L623.44 1906.35 L628.23 1909.22 L633.03 1912.15 L637.83 1915.13 L642.62 1918.17 L647.42 1921.27 L652.22 1924.42 L657.01 1927.64 L661.81 1930.91 L666.6 1934.25 L671.4 1937.64 L676.2 1941.09 L680.99 1944.59 L685.79 1948.16 L690.59 1951.79 L695.38 1955.47 L700.18 1959.21 L704.97 1963.01 L709.77 1966.87 L714.57 1970.79 L719.36 1974.77 L724.16 1978.81 L728.96 1982.9 L733.75 1987.05 L738.55 1991.27 L743.34 1995.54 L748.14 1999.86 L752.94 2004.25 L757.73 2008.7 L762.53 2013.2 L767.33 2017.77 L772.12 2022.39 L776.92 2027.07 L781.71 2031.82 L786.51 2036.64 L791.31 2041.52 L796.1 2046.47 L800.9 2051.5 L805.7 2056.59 L810.49 2061.76 L815.29 2067.01 L820.08 2072.34 L824.88 2077.75 L829.68 2083.25 L834.47 2088.82 L839.27 2094.49 L844.07 2100.24 L848.86 2106.08 L853.66 2112.02 L858.45 2118.05 L863.25 2124.18 L868.05 2130.41 L872.84 2136.73 L877.64 2143.16 L882.44 2149.69 L887.23 2156.33 L892.03 2163.07 L896.82 2169.9 L901.62 2176.82 L906.42 2183.81 L911.21 2190.88 L916.01 2198.01 L920.81 2205.19 L925.6 2212.43 L930.4 2219.71 L935.19 2227.02 L939.99 2234.37 L944.79 2241.73 L949.58 2249.11 L954.38 2256.5"/>
<path d="M287.7 1936.2 L292.5 1935.84 L297.29 1935.49 L302.09 1935.17 L306.89 1934.89 L311.68 1934.65 L316.48 1934.47 L321.27 1934.37 L326.07 1934.35 L330.87 1934.4 L335.66 1934.52 L340.46 1934.72 L345.26 1934.98 L350.05 1935.31 L354.85 1935.71 L359.64 1936.16 L364.44 1936.66 L369.24 1937.22 L374.03 1937.83 L378.83 1938.49 L383.63 1939.19 L388.42 1939.93 L393.22 1940.71 L398.01 1941.53 L402.81 1942.38 L407.61 1943.26 L412.4 1944.17 L417.2 1945.1 L422 1946.06 L426.79 1947.06 L431.59 1948.08 L436.38 1949.13 L441.18 1950.21 L445.98 1951.32 L450.77 1952.47 L455.57 1953.64 L460.37 1954.85 L465.16 1956.09 L469.96 1957.37 L474.75 1958.67 L479.55 1960.02 L484.35 1961.39 L489.14 1962.8 L493.94 1964.25 L498.74 1965.73 L503.53 1967.25 L508.33 1968.81 L513.12 1970.4 L517.92 1972.04 L522.72 1973.71 L527.51 1975.41 L532.31 1977.16 L537.11 1978.95 L541.9 1980.78 L546.7 1982.65 L551.49 1984.55 L556.29 1986.5 L561.09 1988.49 L565.88 1990.52 L570.68 1992.59 L575.48 1994.7 L580.27 1996.85 L585.07 1999.04 L589.86 2001.28 L594.66 2003.55 L599.46 2005.87 L604.25 2008.23 L609.05 2010.63 L613.85 2013.07 L618.64 2015.56 L623.44 2018.09 L628.23 2020.66 L633.03 2023.27 L637.83 2025.93 L642.62 2028.63 L647.42 2031.38 L652.22 2034.16 L657.01 2036.99 L661.81 2039.87 L666.6 2042.79 L671.4 2045.74 L676.2 2048.75 L680.99 2051.79 L685.79 2054.87 L690.59 2058 L695.38 2061.17 L700.18 2064.38 L704.97 2067.63 L709.77 2070.92 L714.57 2074.25 L719.36 2077.62 L724.16 2081.03 L728.96 2084.48 L733.75 2087.97 L738.55 2091.5 L743.34 2095.07 L748.14 2098.68 L752.94 2102.32 L757.73 2106.01 L762.53 2109.73 L767.33 2113.49 L772.12 2117.29 L776.92 2121.12 L781.71 2124.99 L786.51 2128.9 L791.31 2132.84 L796.1 2136.81 L800.9 2140.82 L805.7 2144.87 L810.49 2148.95 L815.29 2153.06 L820.08 2157.2 L824.88 2161.38 L829.68 2165.59 L834.47 2169.82 L839.27 2174.09 L844.07 2178.39 L848.86 2182.72 L853.66 2187.08 L858.45 2191.47 L863.25 2195.88 L868.05 2200.32 L872.84 2204.79 L877.64 2209.29 L882.44 2213.81 L887.23 2218.36 L892.03 2222.94 L896.82 2227.53 L901.62 2232.15 L906.42 2236.78 L911.21 2241.43 L916.01 2246.1 L920.81 2250.78 L925.6 2255.48 L930.4 2260.18 L935.19 2264.9 L939.99 2269.62 L944.79 2274.34 L949.58 2279.07 L954.38 2283.8"/>
<path d="M287.7 2041.3 L292.5 2041.31 L297.29 2041.32 L302.09 2041.35 L306.89 2041.39 L311.68 2041.44 L316.48 2041.52 L321.27 2041.63 L326.07 2041.77 L330.87 2041.94 L335.66 2042.16 L340.46 2042.43 L345.26 2042.74 L350.05 2043.1 L354.85 2043.51 L359.64 2043.96 L364.44 2044.45 L369.24 2044.98 L374.03 2045.53 L378.83 2046.11 L383.63 2046.71 L388.42 2047.33 L393.22 2047.96 L398.01 2048.61 L402.81 2049.26 L407.61 2049.92 L412.4 2050.57 L417.2 2051.23 L422 2051.9 L426.79 2052.57 L431.59 2053.26 L436.38 2053.96 L441.18 2054.68 L445.98 2055.41 L450.77 2056.17 L455.57 2056.95 L460.37 2057.76 L465.16 2058.6 L469.96 2059.47 L474.75 2060.38 L479.55 2061.32 L484.35 2062.29 L489.14 2063.29 L493.94 2064.32 L498.74 2065.39 L503.53 2066.49 L508.33 2067.62 L513.12 2068.78 L517.92 2069.97 L522.72 2071.2 L527.51 2072.45 L532.31 2073.74 L537.11 2075.05 L541.9 2076.39 L546.7 2077.77 L551.49 2079.18 L556.29 2080.61 L561.09 2082.08 L565.88 2083.57 L570.68 2085.1 L575.48 2086.66 L580.27 2088.25 L585.07 2089.87 L589.86 2091.52 L594.66 2093.19 L599.46 2094.9 L604.25 2096.65 L609.05 2098.42 L613.85 2100.22 L618.64 2102.05 L623.44 2103.91 L628.23 2105.81 L633.03 2107.73 L637.83 2109.68 L642.62 2111.67 L647.42 2113.68 L652.22 2115.73 L657.01 2117.81 L661.81 2119.91 L666.6 2122.05 L671.4 2124.22 L676.2 2126.42 L680.99 2128.65 L685.79 2130.91 L690.59 2133.2 L695.38 2135.52 L700.18 2137.87 L704.97 2140.25 L709.77 2142.66 L714.57 2145.11 L719.36 2147.58 L724.16 2150.08 L728.96 2152.62 L733.75 2155.18 L738.55 2157.78 L743.34 2160.4 L748.14 2163.06 L752.94 2165.75 L757.73 2168.46 L762.53 2171.21 L767.33 2173.99 L772.12 2176.8 L776.92 2179.63 L781.71 2182.5 L786.51 2185.41 L791.31 2188.34 L796.1 2191.3 L800.9 2194.3 L805.7 2197.33 L810.49 2200.39 L815.29 2203.49 L820.08 2206.62 L824.88 2209.78 L829.68 2212.97 L834.47 2216.2 L839.27 2219.46 L844.07 2222.76 L848.86 2226.09 L853.66 2229.46 L858.45 2232.86 L863.25 2236.3 L868.05 2239.78 L872.84 2243.29 L877.64 2246.83 L882.44 2250.41 L887.23 2254.03 L892.03 2257.69 L896.82 2261.37 L901.62 2265.09 L906.42 2268.83 L911.21 2272.6 L916.01 2276.38 L920.81 2280.19 L925.6 2284.02 L930.4 2287.86 L935.19 2291.71 L939.99 2295.58 L944.79 2299.45 L949.58 2303.32 L954.38 2307.2"/>
<path d="M287.7 2084.8 L292.5 2085.06 L297.29 2085.33 L302.09 2085.59 L306.89 2085.86 L311.68 2086.13 L316.48 2086.41 L321.27 2086.7 L326.07 2086.99 L330.87 2087.3 L335.66 2087.61 L340.46 2087.94 L345.26 2088.27 L350.05 2088.62 L354.85 2088.99 L359.64 2089.37 L364.44 2089.77 L369.24 2090.19 L374.03 2090.62 L378.83 2091.08 L383.63 2091.56 L388.42 2092.06 L393.22 2092.58 L398.01 2093.13 L402.81 2093.71 L407.61 2094.31 L412.4 2094.94 L417.2 2095.6 L422 2096.28 L426.79 2097 L431.59 2097.73 L436.38 2098.5 L441.18 2099.29 L445.98 2100.1 L450.77 2100.94 L455.57 2101.8 L460.37 2102.68 L465.16 2103.59 L469.96 2104.52 L474.75 2105.47 L479.55 2106.44 L484.35 2107.44 L489.14 2108.45 L493.94 2109.48 L498.74 2110.53 L503.53 2111.6 L508.33 2112.69 L513.12 2113.8 L517.92 2114.92 L522.72 2116.06 L527.51 2117.21 L532.31 2118.39 L537.11 2119.58 L541.9 2120.78 L546.7 2122.01 L551.49 2123.25 L556.29 2124.52 L561.09 2125.8 L565.88 2127.11 L570.68 2128.44 L575.48 2129.79 L580.27 2131.16 L585.07 2132.56 L589.86 2133.99 L594.66 2135.44 L599.46 2136.92 L604.25 2138.43 L609.05 2139.96 L613.85 2141.53 L618.64 2143.12 L623.44 2144.75 L628.23 2146.4 L633.03 2148.09 L637.83 2149.82 L642.62 2151.57 L647.42 2153.36 L652.22 2155.19 L657.01 2157.05 L661.81 2158.95 L666.6 2160.87 L671.4 2162.84 L676.2 2164.83 L680.99 2166.86 L685.79 2168.92 L690.59 2171.01 L695.38 2173.13 L700.18 2175.28 L704.97 2177.46 L709.77 2179.68 L714.57 2181.92 L719.36 2184.19 L724.16 2186.49 L728.96 2188.82 L733.75 2191.17 L738.55 2193.56 L743.34 2195.97 L748.14 2198.41 L752.94 2200.87 L757.73 2203.36 L762.53 2205.88 L767.33 2208.42 L772.12 2210.98 L776.92 2213.58 L781.71 2216.2 L786.51 2218.85 L791.31 2221.53 L796.1 2224.24 L800.9 2226.98 L805.7 2229.76 L810.49 2232.57 L815.29 2235.41 L820.08 2238.29 L824.88 2241.21 L829.68 2244.17 L834.47 2247.16 L839.27 2250.2 L844.07 2253.28 L848.86 2256.4 L853.66 2259.56 L858.45 2262.77 L863.25 2266.03 L868.05 2269.33 L872.84 2272.68 L877.64 2276.08 L882.44 2279.53 L887.23 2283.03 L892.03 2286.57 L896.82 2290.17 L901.62 2293.8 L906.42 2297.47 L911.21 2301.17 L916.01 2304.91 L920.81 2308.67 L925.6 2312.46 L930.4 2316.27 L935.19 2320.1 L939.99 2323.93 L944.79 2327.78 L949.58 2331.64 L954.38 2335.5"/>
<path d="M287.7 2130.3 L292.5 2130.52 L297.29 2130.74 L302.09 2130.95 L306.89 2131.18 L311.68 2131.4 L316.48 2131.63 L321.27 2131.87 L326.07 2132.11 L330.87 2132.36 L335.66 2132.61 L340.46 2132.88 L345.26 2133.15 L350.05 2133.44 L354.85 2133.74 L359.64 2134.04 L364.44 2134.36 L369.24 2134.7 L374.03 2135.05 L378.83 2135.42 L383.63 2135.8 L388.42 2136.2 L393.22 2136.62 L398.01 2137.05 L402.81 2137.51 L407.61 2137.99 L412.4 2138.49 L417.2 2139.01 L422 2139.55 L426.79 2140.11 L431.59 2140.7 L436.38 2141.3 L441.18 2141.93 L445.98 2142.58 L450.77 2143.25 L455.57 2143.94 L460.37 2144.66 L465.16 2145.39 L469.96 2146.15 L474.75 2146.92 L479.55 2147.72 L484.35 2148.54 L489.14 2149.38 L493.94 2150.24 L498.74 2151.13 L503.53 2152.03 L508.33 2152.95 L513.12 2153.9 L517.92 2154.87 L522.72 2155.85 L527.51 2156.86 L532.31 2157.89 L537.11 2158.94 L541.9 2160.01 L546.7 2161.1 L551.49 2162.21 L556.29 2163.34 L561.09 2164.49 L565.88 2165.66 L570.68 2166.85 L575.48 2168.06 L580.27 2169.29 L585.07 2170.54 L589.86 2171.8 L594.66 2173.09 L599.46 2174.39 L604.25 2175.71 L609.05 2177.05 L613.85 2178.41 L618.64 2179.78 L623.44 2181.17 L628.23 2182.58 L633.03 2184.01 L637.83 2185.45 L642.62 2186.92 L647.42 2188.39 L652.22 2189.89 L657.01 2191.4 L661.81 2192.93 L666.6 2194.49 L671.4 2196.06 L676.2 2197.66 L680.99 2199.28 L685.79 2200.93 L690.59 2202.6 L695.38 2204.29 L700.18 2206.02 L704.97 2207.77 L709.77 2209.56 L714.57 2211.37 L719.36 2213.22 L724.16 2215.1 L728.96 2217.02 L733.75 2218.97 L738.55 2220.95 L743.34 2222.98 L748.14 2225.04 L752.94 2227.14 L757.73 2229.28 L762.53 2231.47 L767.33 2233.69 L772.12 2235.96 L776.92 2238.27 L781.71 2240.62 L786.51 2243.01 L791.31 2245.44 L796.1 2247.9 L800.9 2250.4 L805.7 2252.93 L810.49 2255.5 L815.29 2258.1 L820.08 2260.73 L824.88 2263.39 L829.68 2266.08 L834.47 2268.8 L839.27 2271.54 L844.07 2274.31 L848.86 2277.11 L853.66 2279.93 L858.45 2282.77 L863.25 2285.64 L868.05 2288.52 L872.84 2291.42 L877.64 2294.35 L882.44 2297.28 L887.23 2300.24 L892.03 2303.21 L896.82 2306.19 L901.62 2309.19 L906.42 2312.2 L911.21 2315.22 L916.01 2318.25 L920.81 2321.29 L925.6 2324.33 L930.4 2327.38 L935.19 2330.44 L939.99 2333.5 L944.79 2336.57 L949.58 2339.63 L954.38 2342.7"/>
<path d="M287.7 2173.9 L292.5 2174.15 L297.29 2174.4 L302.09 2174.65 L306.89 2174.9 L311.68 2175.15 L316.48 2175.41 L321.27 2175.67 L326.07 2175.94 L330.87 2176.21 L335.66 2176.49 L340.46 2176.78 L345.26 2177.07 L350.05 2177.37 L354.85 2177.68 L359.64 2178 L364.44 2178.33 L369.24 2178.67 L374.03 2179.03 L378.83 2179.39 L383.63 2179.77 L388.42 2180.16 L393.22 2180.57 L398.01 2180.99 L402.81 2181.43 L407.61 2181.88 L412.4 2182.35 L417.2 2182.84 L422 2183.35 L426.79 2183.87 L431.59 2184.41 L436.38 2184.96 L441.18 2185.54 L445.98 2186.13 L450.77 2186.73 L455.57 2187.36 L460.37 2188 L465.16 2188.65 L469.96 2189.33 L474.75 2190.02 L479.55 2190.72 L484.35 2191.45 L489.14 2192.19 L493.94 2192.95 L498.74 2193.72 L503.53 2194.51 L508.33 2195.32 L513.12 2196.14 L517.92 2196.98 L522.72 2197.84 L527.51 2198.71 L532.31 2199.6 L537.11 2200.51 L541.9 2201.43 L546.7 2202.37 L551.49 2203.33 L556.29 2204.31 L561.09 2205.3 L565.88 2206.31 L570.68 2207.33 L575.48 2208.38 L580.27 2209.44 L585.07 2210.52 L589.86 2211.62 L594.66 2212.73 L599.46 2213.86 L604.25 2215.01 L609.05 2216.18 L613.85 2217.37 L618.64 2218.58 L623.44 2219.8 L628.23 2221.05 L633.03 2222.31 L637.83 2223.59 L642.62 2224.89 L647.42 2226.21 L652.22 2227.55 L657.01 2228.91 L661.81 2230.28 L666.6 2231.68 L671.4 2233.1 L676.2 2234.54 L680.99 2236 L685.79 2237.48 L690.59 2238.99 L695.38 2240.51 L700.18 2242.06 L704.97 2243.63 L709.77 2245.23 L714.57 2246.84 L719.36 2248.49 L724.16 2250.15 L728.96 2251.84 L733.75 2253.55 L738.55 2255.29 L743.34 2257.05 L748.14 2258.84 L752.94 2260.66 L757.73 2262.5 L762.53 2264.36 L767.33 2266.25 L772.12 2268.17 L776.92 2270.12 L781.71 2272.1 L786.51 2274.1 L791.31 2276.13 L796.1 2278.18 L800.9 2280.27 L805.7 2282.38 L810.49 2284.52 L815.29 2286.69 L820.08 2288.89 L824.88 2291.12 L829.68 2293.38 L834.47 2295.67 L839.27 2297.99 L844.07 2300.33 L848.86 2302.71 L853.66 2305.12 L858.45 2307.56 L863.25 2310.03 L868.05 2312.53 L872.84 2315.06 L877.64 2317.62 L882.44 2320.22 L887.23 2322.85 L892.03 2325.5 L896.82 2328.19 L901.62 2330.9 L906.42 2333.63 L911.21 2336.39 L916.01 2339.16 L920.81 2341.96 L925.6 2344.76 L930.4 2347.58 L935.19 2350.41 L939.99 2353.25 L944.79 2356.1 L949.58 2358.95 L954.38 2361.8"/>
<path d="M287.7 2219.2 L292.5 2219.4 L297.29 2219.59 L302.09 2219.79 L306.89 2219.99 L311.68 2220.19 L316.48 2220.4 L321.27 2220.61 L326.07 2220.82 L330.87 2221.04 L335.66 2221.26 L340.46 2221.48 L345.26 2221.72 L350.05 2221.96 L354.85 2222.21 L359.64 2222.46 L364.44 2222.72 L369.24 2223 L374.03 2223.28 L378.83 2223.57 L383.63 2223.87 L388.42 2224.19 L393.22 2224.51 L398.01 2224.85 L402.81 2225.2 L407.61 2225.57 L412.4 2225.94 L417.2 2226.34 L422 2226.74 L426.79 2227.16 L431.59 2227.6 L436.38 2228.04 L441.18 2228.51 L445.98 2228.98 L450.77 2229.47 L455.57 2229.98 L460.37 2230.49 L465.16 2231.03 L469.96 2231.57 L474.75 2232.14 L479.55 2232.71 L484.35 2233.3 L489.14 2233.91 L493.94 2234.52 L498.74 2235.16 L503.53 2235.8 L508.33 2236.47 L513.12 2237.14 L517.92 2237.83 L522.72 2238.54 L527.51 2239.26 L532.31 2239.99 L537.11 2240.74 L541.9 2241.51 L546.7 2242.29 L551.49 2243.08 L556.29 2243.89 L561.09 2244.71 L565.88 2245.55 L570.68 2246.4 L575.48 2247.27 L580.27 2248.15 L585.07 2249.05 L589.86 2249.96 L594.66 2250.89 L599.46 2251.83 L604.25 2252.79 L609.05 2253.76 L613.85 2254.75 L618.64 2255.75 L623.44 2256.77 L628.23 2257.8 L633.03 2258.85 L637.83 2259.91 L642.62 2260.99 L647.42 2262.09 L652.22 2263.2 L657.01 2264.32 L661.81 2265.47 L666.6 2266.63 L671.4 2267.8 L676.2 2269 L680.99 2270.21 L685.79 2271.44 L690.59 2272.68 L695.38 2273.95 L700.18 2275.23 L704.97 2276.54 L709.77 2277.86 L714.57 2279.21 L719.36 2280.57 L724.16 2281.96 L728.96 2283.37 L733.75 2284.8 L738.55 2286.25 L743.34 2287.72 L748.14 2289.22 L752.94 2290.74 L757.73 2292.28 L762.53 2293.85 L767.33 2295.44 L772.12 2297.05 L776.92 2298.69 L781.71 2300.35 L786.51 2302.04 L791.31 2303.75 L796.1 2305.48 L800.9 2307.23 L805.7 2309 L810.49 2310.8 L815.29 2312.61 L820.08 2314.45 L824.88 2316.31 L829.68 2318.18 L834.47 2320.08 L839.27 2322 L844.07 2323.93 L848.86 2325.89 L853.66 2327.86 L858.45 2329.86 L863.25 2331.86 L868.05 2333.89 L872.84 2335.94 L877.64 2338 L882.44 2340.08 L887.23 2342.17 L892.03 2344.28 L896.82 2346.4 L901.62 2348.54 L906.42 2350.69 L911.21 2352.85 L916.01 2355.02 L920.81 2357.2 L925.6 2359.38 L930.4 2361.58 L935.19 2363.77 L939.99 2365.98 L944.79 2368.18 L949.58 2370.39 L954.38 2372.6"/>
<path d="M287.7 2248.4 L292.5 2248.58 L297.29 2248.77 L302.09 2248.95 L306.89 2249.13 L311.68 2249.32 L316.48 2249.51 L321.27 2249.7 L326.07 2249.9 L330.87 2250.1 L335.66 2250.31 L340.46 2250.52 L345.26 2250.73 L350.05 2250.95 L354.85 2251.18 L359.64 2251.42 L364.44 2251.66 L369.24 2251.91 L374.03 2252.17 L378.83 2252.44 L383.63 2252.71 L388.42 2253 L393.22 2253.3 L398.01 2253.61 L402.81 2253.93 L407.61 2254.26 L412.4 2254.61 L417.2 2254.96 L422 2255.33 L426.79 2255.71 L431.59 2256.11 L436.38 2256.51 L441.18 2256.93 L445.98 2257.36 L450.77 2257.8 L455.57 2258.25 L460.37 2258.71 L465.16 2259.19 L469.96 2259.67 L474.75 2260.17 L479.55 2260.68 L484.35 2261.19 L489.14 2261.72 L493.94 2262.26 L498.74 2262.81 L503.53 2263.37 L508.33 2263.94 L513.12 2264.52 L517.92 2265.11 L522.72 2265.71 L527.51 2266.32 L532.31 2266.94 L537.11 2267.57 L541.9 2268.21 L546.7 2268.86 L551.49 2269.52 L556.29 2270.19 L561.09 2270.87 L565.88 2271.57 L570.68 2272.27 L575.48 2272.99 L580.27 2273.72 L585.07 2274.46 L589.86 2275.21 L594.66 2275.98 L599.46 2276.76 L604.25 2277.55 L609.05 2278.35 L613.85 2279.17 L618.64 2280 L623.44 2280.85 L628.23 2281.71 L633.03 2282.58 L637.83 2283.47 L642.62 2284.38 L647.42 2285.29 L652.22 2286.23 L657.01 2287.18 L661.81 2288.14 L666.6 2289.13 L671.4 2290.12 L676.2 2291.14 L680.99 2292.18 L685.79 2293.23 L690.59 2294.3 L695.38 2295.39 L700.18 2296.5 L704.97 2297.63 L709.77 2298.78 L714.57 2299.95 L719.36 2301.14 L724.16 2302.36 L728.96 2303.59 L733.75 2304.85 L738.55 2306.13 L743.34 2307.44 L748.14 2308.76 L752.94 2310.12 L757.73 2311.49 L762.53 2312.89 L767.33 2314.32 L772.12 2315.77 L776.92 2317.25 L781.71 2318.75 L786.51 2320.27 L791.31 2321.82 L796.1 2323.39 L800.9 2324.98 L805.7 2326.59 L810.49 2328.22 L815.29 2329.87 L820.08 2331.54 L824.88 2333.23 L829.68 2334.93 L834.47 2336.66 L839.27 2338.4 L844.07 2340.15 L848.86 2341.92 L853.66 2343.71 L858.45 2345.51 L863.25 2347.32 L868.05 2349.15 L872.84 2350.99 L877.64 2352.84 L882.44 2354.7 L887.23 2356.57 L892.03 2358.45 L896.82 2360.35 L901.62 2362.25 L906.42 2364.15 L911.21 2366.07 L916.01 2367.99 L920.81 2369.92 L925.6 2371.85 L930.4 2373.78 L935.19 2375.72 L939.99 2377.66 L944.79 2379.61 L949.58 2381.55 L954.38 2383.5"/>
</g>
<line x1="287.7" y1="1583.6" x2="287.7" y2="2442.2" stroke="#231815" stroke-width="1.85"/>
<line x1="1002" y1="1583.6" x2="1002" y2="2442.2" stroke="#231815" stroke-width="1.85"/>
<line x1="275.2" y1="1584.6" x2="1003" y2="1584.6" stroke="#231815" stroke-width="1.85"/>
<line x1="275.2" y1="2441.2" x2="1014.8" y2="2441.2" stroke="#231815" stroke-width="1.85"/>
<line x1="275.2" y1="2441.2" x2="287.7" y2="2441.2" stroke="#231815" stroke-width="1.85"/>
<line x1="281.3" y1="2419.78" x2="287.7" y2="2419.78" stroke="#231815" stroke-width="1.85"/>
<line x1="281.3" y1="2398.37" x2="287.7" y2="2398.37" stroke="#231815" stroke-width="1.85"/>
<line x1="281.3" y1="2376.95" x2="287.7" y2="2376.95" stroke="#231815" stroke-width="1.85"/>
<line x1="281.3" y1="2355.54" x2="287.7" y2="2355.54" stroke="#231815" stroke-width="1.85"/>
<line x1="275.2" y1="2334.12" x2="287.7" y2="2334.12" stroke="#231815" stroke-width="1.85"/>
<line x1="281.3" y1="2312.71" x2="287.7" y2="2312.71" stroke="#231815" stroke-width="1.85"/>
<line x1="281.3" y1="2291.3" x2="287.7" y2="2291.3" stroke="#231815" stroke-width="1.85"/>
<line x1="281.3" y1="2269.88" x2="287.7" y2="2269.88" stroke="#231815" stroke-width="1.85"/>
<line x1="281.3" y1="2248.46" x2="287.7" y2="2248.46" stroke="#231815" stroke-width="1.85"/>
<line x1="275.2" y1="2227.05" x2="287.7" y2="2227.05" stroke="#231815" stroke-width="1.85"/>
<line x1="281.3" y1="2205.63" x2="287.7" y2="2205.63" stroke="#231815" stroke-width="1.85"/>
<line x1="281.3" y1="2184.22" x2="287.7" y2="2184.22" stroke="#231815" stroke-width="1.85"/>
<line x1="281.3" y1="2162.8" x2="287.7" y2="2162.8" stroke="#231815" stroke-width="1.85"/>
<line x1="281.3" y1="2141.39" x2="287.7" y2="2141.39" stroke="#231815" stroke-width="1.85"/>
<line x1="275.2" y1="2119.97" x2="287.7" y2="2119.97" stroke="#231815" stroke-width="1.85"/>
<line x1="281.3" y1="2098.56" x2="287.7" y2="2098.56" stroke="#231815" stroke-width="1.85"/>
<line x1="281.3" y1="2077.14" x2="287.7" y2="2077.14" stroke="#231815" stroke-width="1.85"/>
<line x1="281.3" y1="2055.73" x2="287.7" y2="2055.73" stroke="#231815" stroke-width="1.85"/>
<line x1="281.3" y1="2034.31" x2="287.7" y2="2034.31" stroke="#231815" stroke-width="1.85"/>
<line x1="275.2" y1="2012.9" x2="287.7" y2="2012.9" stroke="#231815" stroke-width="1.85"/>
<line x1="281.3" y1="1991.48" x2="287.7" y2="1991.48" stroke="#231815" stroke-width="1.85"/>
<line x1="281.3" y1="1970.07" x2="287.7" y2="1970.07" stroke="#231815" stroke-width="1.85"/>
<line x1="281.3" y1="1948.65" x2="287.7" y2="1948.65" stroke="#231815" stroke-width="1.85"/>
<line x1="281.3" y1="1927.24" x2="287.7" y2="1927.24" stroke="#231815" stroke-width="1.85"/>
<line x1="275.2" y1="1905.82" x2="287.7" y2="1905.82" stroke="#231815" stroke-width="1.85"/>
<line x1="281.3" y1="1884.41" x2="287.7" y2="1884.41" stroke="#231815" stroke-width="1.85"/>
<line x1="281.3" y1="1862.99" x2="287.7" y2="1862.99" stroke="#231815" stroke-width="1.85"/>
<line x1="281.3" y1="1841.58" x2="287.7" y2="1841.58" stroke="#231815" stroke-width="1.85"/>
<line x1="281.3" y1="1820.16" x2="287.7" y2="1820.16" stroke="#231815" stroke-width="1.85"/>
<line x1="275.2" y1="1798.75" x2="287.7" y2="1798.75" stroke="#231815" stroke-width="1.85"/>
<line x1="281.3" y1="1777.34" x2="287.7" y2="1777.34" stroke="#231815" stroke-width="1.85"/>
<line x1="281.3" y1="1755.92" x2="287.7" y2="1755.92" stroke="#231815" stroke-width="1.85"/>
<line x1="281.3" y1="1734.5" x2="287.7" y2="1734.5" stroke="#231815" stroke-width="1.85"/>
<line x1="281.3" y1="1713.09" x2="287.7" y2="1713.09" stroke="#231815" stroke-width="1.85"/>
<line x1="275.2" y1="1691.67" x2="287.7" y2="1691.67" stroke="#231815" stroke-width="1.85"/>
<line x1="281.3" y1="1670.26" x2="287.7" y2="1670.26" stroke="#231815" stroke-width="1.85"/>
<line x1="281.3" y1="1648.84" x2="287.7" y2="1648.84" stroke="#231815" stroke-width="1.85"/>
<line x1="281.3" y1="1627.43" x2="287.7" y2="1627.43" stroke="#231815" stroke-width="1.85"/>
<line x1="281.3" y1="1606.01" x2="287.7" y2="1606.01" stroke="#231815" stroke-width="1.85"/>
<line x1="275.2" y1="1584.6" x2="287.7" y2="1584.6" stroke="#231815" stroke-width="1.85"/>
<text x="269.1" y="1594.1" text-anchor="end" font-size="28" fill="#231815" textLength="44.19" lengthAdjust="spacingAndGlyphs">400</text>
<text x="269.1" y="1701.17" text-anchor="end" font-size="28" fill="#231815" textLength="44.19" lengthAdjust="spacingAndGlyphs">350</text>
<text x="269.1" y="1808.25" text-anchor="end" font-size="28" fill="#231815" textLength="44.19" lengthAdjust="spacingAndGlyphs">300</text>
<text x="269.1" y="1915.32" text-anchor="end" font-size="28" fill="#231815" textLength="44.19" lengthAdjust="spacingAndGlyphs">250</text>
<text x="269.1" y="2022.4" text-anchor="end" font-size="28" fill="#231815" textLength="44.19" lengthAdjust="spacingAndGlyphs">200</text>
<text x="269.1" y="2129.47" text-anchor="end" font-size="28" fill="#231815" textLength="44.19" lengthAdjust="spacingAndGlyphs">150</text>
<text x="269.1" y="2236.55" text-anchor="end" font-size="28" fill="#231815" textLength="44.19" lengthAdjust="spacingAndGlyphs">100</text>
<text x="269.1" y="2343.62" text-anchor="end" font-size="28" fill="#231815" textLength="29.46" lengthAdjust="spacingAndGlyphs">50</text>
<text x="269.1" y="2450.7" text-anchor="end" font-size="28" fill="#231815" textLength="14.73" lengthAdjust="spacingAndGlyphs">0</text>
<text x="159.7" y="1592.6" text-anchor="start" font-size="25" font-weight="normal" fill="#231815" textLength="56" lengthAdjust="spacingAndGlyphs">H(m)</text>
<line x1="1002" y1="2441.2" x2="1014.8" y2="2441.2" stroke="#231815" stroke-width="1.85"/>
<line x1="1002" y1="2408.56" x2="1007.9" y2="2408.56" stroke="#231815" stroke-width="1.85"/>
<line x1="1002" y1="2375.93" x2="1007.9" y2="2375.93" stroke="#231815" stroke-width="1.85"/>
<line x1="1002" y1="2343.29" x2="1007.9" y2="2343.29" stroke="#231815" stroke-width="1.85"/>
<line x1="1002" y1="2310.65" x2="1014.8" y2="2310.65" stroke="#231815" stroke-width="1.85"/>
<line x1="1002" y1="2278.02" x2="1007.9" y2="2278.02" stroke="#231815" stroke-width="1.85"/>
<line x1="1002" y1="2245.38" x2="1007.9" y2="2245.38" stroke="#231815" stroke-width="1.85"/>
<line x1="1002" y1="2212.74" x2="1007.9" y2="2212.74" stroke="#231815" stroke-width="1.85"/>
<line x1="1002" y1="2180.11" x2="1014.8" y2="2180.11" stroke="#231815" stroke-width="1.85"/>
<line x1="1002" y1="2147.47" x2="1007.9" y2="2147.47" stroke="#231815" stroke-width="1.85"/>
<line x1="1002" y1="2114.84" x2="1007.9" y2="2114.84" stroke="#231815" stroke-width="1.85"/>
<line x1="1002" y1="2082.2" x2="1007.9" y2="2082.2" stroke="#231815" stroke-width="1.85"/>
<line x1="1002" y1="2049.56" x2="1014.8" y2="2049.56" stroke="#231815" stroke-width="1.85"/>
<line x1="1002" y1="2016.93" x2="1007.9" y2="2016.93" stroke="#231815" stroke-width="1.85"/>
<line x1="1002" y1="1984.29" x2="1007.9" y2="1984.29" stroke="#231815" stroke-width="1.85"/>
<line x1="1002" y1="1951.65" x2="1007.9" y2="1951.65" stroke="#231815" stroke-width="1.85"/>
<line x1="1002" y1="1919.02" x2="1014.8" y2="1919.02" stroke="#231815" stroke-width="1.85"/>
<line x1="1002" y1="1886.38" x2="1007.9" y2="1886.38" stroke="#231815" stroke-width="1.85"/>
<line x1="1002" y1="1853.74" x2="1007.9" y2="1853.74" stroke="#231815" stroke-width="1.85"/>
<line x1="1002" y1="1821.11" x2="1007.9" y2="1821.11" stroke="#231815" stroke-width="1.85"/>
<line x1="1002" y1="1788.47" x2="1014.8" y2="1788.47" stroke="#231815" stroke-width="1.85"/>
<line x1="1002" y1="1755.83" x2="1007.9" y2="1755.83" stroke="#231815" stroke-width="1.85"/>
<line x1="1002" y1="1723.2" x2="1007.9" y2="1723.2" stroke="#231815" stroke-width="1.85"/>
<line x1="1002" y1="1690.56" x2="1007.9" y2="1690.56" stroke="#231815" stroke-width="1.85"/>
<line x1="1002" y1="1657.92" x2="1014.8" y2="1657.92" stroke="#231815" stroke-width="1.85"/>
<line x1="1002" y1="1625.29" x2="1007.9" y2="1625.29" stroke="#231815" stroke-width="1.85"/>
<line x1="1002" y1="1592.65" x2="1007.9" y2="1592.65" stroke="#231815" stroke-width="1.85"/>
<text x="1021.1" y="1667.82" text-anchor="start" font-size="28" fill="#231815" textLength="58.92" lengthAdjust="spacingAndGlyphs">1200</text>
<text x="1087.18" y="1667.42" text-anchor="start" font-size="25" font-weight="normal" fill="#231815" textLength="52.5" lengthAdjust="spacingAndGlyphs">H(ft)</text>
<text x="1021.1" y="1798.37" text-anchor="start" font-size="28" fill="#231815" textLength="58.92" lengthAdjust="spacingAndGlyphs">1000</text>
<text x="1022.9" y="1928.92" text-anchor="start" font-size="28" fill="#231815" textLength="44.19" lengthAdjust="spacingAndGlyphs">800</text>
<text x="1022.9" y="2059.46" text-anchor="start" font-size="28" fill="#231815" textLength="44.19" lengthAdjust="spacingAndGlyphs">600</text>
<text x="1022.9" y="2190.01" text-anchor="start" font-size="28" fill="#231815" textLength="44.19" lengthAdjust="spacingAndGlyphs">400</text>
<text x="1022.9" y="2320.55" text-anchor="start" font-size="28" fill="#231815" textLength="44.19" lengthAdjust="spacingAndGlyphs">200</text>
<text x="1022.9" y="2451.1" text-anchor="start" font-size="28" fill="#231815" textLength="14.73" lengthAdjust="spacingAndGlyphs">0</text>
<line x1="287.7" y1="1571.6" x2="287.7" y2="1584.6" stroke="#231815" stroke-width="1.85"/>
<text x="289.1" y="1562.9" text-anchor="middle" font-size="28" fill="#231815" textLength="14.73" lengthAdjust="spacingAndGlyphs">0</text>
<line x1="305.73" y1="1577.6" x2="305.73" y2="1584.6" stroke="#231815" stroke-width="1.85"/>
<line x1="323.75" y1="1577.6" x2="323.75" y2="1584.6" stroke="#231815" stroke-width="1.85"/>
<line x1="341.78" y1="1577.6" x2="341.78" y2="1584.6" stroke="#231815" stroke-width="1.85"/>
<line x1="359.8" y1="1577.6" x2="359.8" y2="1584.6" stroke="#231815" stroke-width="1.85"/>
<line x1="377.83" y1="1571.6" x2="377.83" y2="1584.6" stroke="#231815" stroke-width="1.85"/>
<text x="379.23" y="1562.9" text-anchor="middle" font-size="28" fill="#231815" textLength="14.73" lengthAdjust="spacingAndGlyphs">5</text>
<line x1="395.86" y1="1577.6" x2="395.86" y2="1584.6" stroke="#231815" stroke-width="1.85"/>
<line x1="413.88" y1="1577.6" x2="413.88" y2="1584.6" stroke="#231815" stroke-width="1.85"/>
<line x1="431.91" y1="1577.6" x2="431.91" y2="1584.6" stroke="#231815" stroke-width="1.85"/>
<line x1="449.94" y1="1577.6" x2="449.94" y2="1584.6" stroke="#231815" stroke-width="1.85"/>
<line x1="467.96" y1="1571.6" x2="467.96" y2="1584.6" stroke="#231815" stroke-width="1.85"/>
<text x="468.56" y="1562.9" text-anchor="middle" font-size="28" fill="#231815" textLength="29.46" lengthAdjust="spacingAndGlyphs">10</text>
<line x1="485.99" y1="1577.6" x2="485.99" y2="1584.6" stroke="#231815" stroke-width="1.85"/>
<line x1="504.01" y1="1577.6" x2="504.01" y2="1584.6" stroke="#231815" stroke-width="1.85"/>
<line x1="522.04" y1="1577.6" x2="522.04" y2="1584.6" stroke="#231815" stroke-width="1.85"/>
<line x1="540.07" y1="1577.6" x2="540.07" y2="1584.6" stroke="#231815" stroke-width="1.85"/>
<line x1="558.09" y1="1571.6" x2="558.09" y2="1584.6" stroke="#231815" stroke-width="1.85"/>
<text x="558.69" y="1562.9" text-anchor="middle" font-size="28" fill="#231815" textLength="29.46" lengthAdjust="spacingAndGlyphs">15</text>
<line x1="576.12" y1="1577.6" x2="576.12" y2="1584.6" stroke="#231815" stroke-width="1.85"/>
<line x1="594.14" y1="1577.6" x2="594.14" y2="1584.6" stroke="#231815" stroke-width="1.85"/>
<line x1="612.17" y1="1577.6" x2="612.17" y2="1584.6" stroke="#231815" stroke-width="1.85"/>
<line x1="630.2" y1="1577.6" x2="630.2" y2="1584.6" stroke="#231815" stroke-width="1.85"/>
<line x1="648.22" y1="1571.6" x2="648.22" y2="1584.6" stroke="#231815" stroke-width="1.85"/>
<text x="648.82" y="1562.9" text-anchor="middle" font-size="28" fill="#231815" textLength="29.46" lengthAdjust="spacingAndGlyphs">20</text>
<line x1="666.25" y1="1577.6" x2="666.25" y2="1584.6" stroke="#231815" stroke-width="1.85"/>
<line x1="684.27" y1="1577.6" x2="684.27" y2="1584.6" stroke="#231815" stroke-width="1.85"/>
<line x1="702.3" y1="1577.6" x2="702.3" y2="1584.6" stroke="#231815" stroke-width="1.85"/>
<line x1="720.33" y1="1577.6" x2="720.33" y2="1584.6" stroke="#231815" stroke-width="1.85"/>
<line x1="738.35" y1="1571.6" x2="738.35" y2="1584.6" stroke="#231815" stroke-width="1.85"/>
<text x="738.95" y="1562.9" text-anchor="middle" font-size="28" fill="#231815" textLength="29.46" lengthAdjust="spacingAndGlyphs">25</text>
<line x1="756.38" y1="1577.6" x2="756.38" y2="1584.6" stroke="#231815" stroke-width="1.85"/>
<line x1="774.41" y1="1577.6" x2="774.41" y2="1584.6" stroke="#231815" stroke-width="1.85"/>
<line x1="792.43" y1="1577.6" x2="792.43" y2="1584.6" stroke="#231815" stroke-width="1.85"/>
<line x1="810.46" y1="1577.6" x2="810.46" y2="1584.6" stroke="#231815" stroke-width="1.85"/>
<line x1="828.48" y1="1571.6" x2="828.48" y2="1584.6" stroke="#231815" stroke-width="1.85"/>
<text x="829.08" y="1562.9" text-anchor="middle" font-size="28" fill="#231815" textLength="29.46" lengthAdjust="spacingAndGlyphs">30</text>
<line x1="846.51" y1="1577.6" x2="846.51" y2="1584.6" stroke="#231815" stroke-width="1.85"/>
<line x1="864.54" y1="1577.6" x2="864.54" y2="1584.6" stroke="#231815" stroke-width="1.85"/>
<line x1="882.56" y1="1577.6" x2="882.56" y2="1584.6" stroke="#231815" stroke-width="1.85"/>
<line x1="900.59" y1="1577.6" x2="900.59" y2="1584.6" stroke="#231815" stroke-width="1.85"/>
<line x1="918.61" y1="1571.6" x2="918.61" y2="1584.6" stroke="#231815" stroke-width="1.85"/>
<text x="919.21" y="1562.9" text-anchor="middle" font-size="28" fill="#231815" textLength="29.46" lengthAdjust="spacingAndGlyphs">35</text>
<line x1="936.64" y1="1577.6" x2="936.64" y2="1584.6" stroke="#231815" stroke-width="1.85"/>
<line x1="954.67" y1="1577.6" x2="954.67" y2="1584.6" stroke="#231815" stroke-width="1.85"/>
<line x1="972.69" y1="1577.6" x2="972.69" y2="1584.6" stroke="#231815" stroke-width="1.85"/>
<line x1="990.72" y1="1577.6" x2="990.72" y2="1584.6" stroke="#231815" stroke-width="1.85"/>
<text x="951" y="1561" text-anchor="start" font-size="25" font-weight="normal" fill="#231815" textLength="94.5" lengthAdjust="spacingAndGlyphs">US.GPM</text>
<line x1="287.7" y1="2441.2" x2="287.7" y2="2453.7" stroke="#231815" stroke-width="1.85"/>
<line x1="311.51" y1="2441.2" x2="311.51" y2="2447.9" stroke="#231815" stroke-width="1.85"/>
<line x1="335.32" y1="2441.2" x2="335.32" y2="2447.9" stroke="#231815" stroke-width="1.85"/>
<line x1="359.13" y1="2441.2" x2="359.13" y2="2447.9" stroke="#231815" stroke-width="1.85"/>
<line x1="382.94" y1="2441.2" x2="382.94" y2="2447.9" stroke="#231815" stroke-width="1.85"/>
<line x1="406.75" y1="2441.2" x2="406.75" y2="2453.7" stroke="#231815" stroke-width="1.85"/>
<line x1="430.56" y1="2441.2" x2="430.56" y2="2447.9" stroke="#231815" stroke-width="1.85"/>
<line x1="454.37" y1="2441.2" x2="454.37" y2="2447.9" stroke="#231815" stroke-width="1.85"/>
<line x1="478.18" y1="2441.2" x2="478.18" y2="2447.9" stroke="#231815" stroke-width="1.85"/>
<line x1="501.99" y1="2441.2" x2="501.99" y2="2447.9" stroke="#231815" stroke-width="1.85"/>
<line x1="525.8" y1="2441.2" x2="525.8" y2="2453.7" stroke="#231815" stroke-width="1.85"/>
<line x1="549.61" y1="2441.2" x2="549.61" y2="2447.9" stroke="#231815" stroke-width="1.85"/>
<line x1="573.42" y1="2441.2" x2="573.42" y2="2447.9" stroke="#231815" stroke-width="1.85"/>
<line x1="597.23" y1="2441.2" x2="597.23" y2="2447.9" stroke="#231815" stroke-width="1.85"/>
<line x1="621.04" y1="2441.2" x2="621.04" y2="2447.9" stroke="#231815" stroke-width="1.85"/>
<line x1="644.85" y1="2441.2" x2="644.85" y2="2453.7" stroke="#231815" stroke-width="1.85"/>
<line x1="668.66" y1="2441.2" x2="668.66" y2="2447.9" stroke="#231815" stroke-width="1.85"/>
<line x1="692.47" y1="2441.2" x2="692.47" y2="2447.9" stroke="#231815" stroke-width="1.85"/>
<line x1="716.28" y1="2441.2" x2="716.28" y2="2447.9" stroke="#231815" stroke-width="1.85"/>
<line x1="740.09" y1="2441.2" x2="740.09" y2="2447.9" stroke="#231815" stroke-width="1.85"/>
<line x1="763.9" y1="2441.2" x2="763.9" y2="2453.7" stroke="#231815" stroke-width="1.85"/>
<line x1="787.71" y1="2441.2" x2="787.71" y2="2447.9" stroke="#231815" stroke-width="1.85"/>
<line x1="811.52" y1="2441.2" x2="811.52" y2="2447.9" stroke="#231815" stroke-width="1.85"/>
<line x1="835.33" y1="2441.2" x2="835.33" y2="2447.9" stroke="#231815" stroke-width="1.85"/>
<line x1="859.14" y1="2441.2" x2="859.14" y2="2447.9" stroke="#231815" stroke-width="1.85"/>
<line x1="882.95" y1="2441.2" x2="882.95" y2="2453.7" stroke="#231815" stroke-width="1.85"/>
<line x1="906.76" y1="2441.2" x2="906.76" y2="2447.9" stroke="#231815" stroke-width="1.85"/>
<line x1="930.57" y1="2441.2" x2="930.57" y2="2447.9" stroke="#231815" stroke-width="1.85"/>
<line x1="954.38" y1="2441.2" x2="954.38" y2="2447.9" stroke="#231815" stroke-width="1.85"/>
<line x1="978.19" y1="2441.2" x2="978.19" y2="2447.9" stroke="#231815" stroke-width="1.85"/>
<line x1="1002" y1="2441.2" x2="1002" y2="2453.7" stroke="#231815" stroke-width="1.85"/>
<text x="287.8" y="2480.7" text-anchor="middle" font-size="28" fill="#231815" textLength="14.73" lengthAdjust="spacingAndGlyphs">0</text>
<text x="407.25" y="2480.7" text-anchor="middle" font-size="28" fill="#231815" textLength="36.83" lengthAdjust="spacingAndGlyphs">1.5</text>
<text x="525.9" y="2480.7" text-anchor="middle" font-size="28" fill="#231815" textLength="14.73" lengthAdjust="spacingAndGlyphs">3</text>
<text x="645.35" y="2480.7" text-anchor="middle" font-size="28" fill="#231815" textLength="36.83" lengthAdjust="spacingAndGlyphs">4.5</text>
<text x="764" y="2480.7" text-anchor="middle" font-size="28" fill="#231815" textLength="14.73" lengthAdjust="spacingAndGlyphs">6</text>
<text x="883.45" y="2480.7" text-anchor="middle" font-size="28" fill="#231815" textLength="36.83" lengthAdjust="spacingAndGlyphs">7.5</text>
<text x="1002.1" y="2480.7" text-anchor="middle" font-size="28" fill="#231815" textLength="14.73" lengthAdjust="spacingAndGlyphs">9</text>
<text x="1023.6" y="2480.7" font-size="25.0" fill="#231815" textLength="89.5" lengthAdjust="spacingAndGlyphs">Q(m<tspan font-size="17" dy="-8">3</tspan><tspan dy="8">/h)</tspan></text>
<rect x="793.6" y="1584.5" width="209.4" height="61.7" fill="#2253a5"/>
<text x="825.1" y="1628.4" text-anchor="start" font-size="38.4" font-weight="bold" fill="#fff" textLength="145" lengthAdjust="spacingAndGlyphs">R95-GT6</text>
<g font-weight="bold" font-size="26.0" text-anchor="middle" fill="#231815" stroke="#fff" stroke-width="8.4" stroke-linejoin="round" paint-order="stroke">
<text x="360.7" y="1702.5">50</text>
<text x="360.7" y="1825.7">42</text>
<text x="360.7" y="1945.4">34</text>
<text x="360.7" y="2052.6">27</text>
<text x="360.7" y="2098.9">24</text>
<text x="360.7" y="2143.7">21</text>
<text x="360.7" y="2186.8">18</text>
<text x="360.7" y="2230.8">15</text>
<text x="360.7" y="2260">13</text>
</g>
<line x1="286.7" y1="2512.6" x2="1003" y2="2512.6" stroke="#231815" stroke-width="1.85"/>
<line x1="287.7" y1="2512.6" x2="287.7" y2="2523.1" stroke="#231815" stroke-width="1.85"/>
<line x1="311.51" y1="2512.6" x2="311.51" y2="2517.6" stroke="#231815" stroke-width="1.85"/>
<line x1="335.32" y1="2512.6" x2="335.32" y2="2517.6" stroke="#231815" stroke-width="1.85"/>
<line x1="359.13" y1="2512.6" x2="359.13" y2="2517.6" stroke="#231815" stroke-width="1.85"/>
<line x1="382.94" y1="2512.6" x2="382.94" y2="2517.6" stroke="#231815" stroke-width="1.85"/>
<line x1="406.75" y1="2512.6" x2="406.75" y2="2517.6" stroke="#231815" stroke-width="1.85"/>
<line x1="430.56" y1="2512.6" x2="430.56" y2="2523.1" stroke="#231815" stroke-width="1.85"/>
<line x1="454.37" y1="2512.6" x2="454.37" y2="2517.6" stroke="#231815" stroke-width="1.85"/>
<line x1="478.18" y1="2512.6" x2="478.18" y2="2517.6" stroke="#231815" stroke-width="1.85"/>
<line x1="501.99" y1="2512.6" x2="501.99" y2="2517.6" stroke="#231815" stroke-width="1.85"/>
<line x1="525.8" y1="2512.6" x2="525.8" y2="2517.6" stroke="#231815" stroke-width="1.85"/>
<line x1="549.61" y1="2512.6" x2="549.61" y2="2517.6" stroke="#231815" stroke-width="1.85"/>
<line x1="573.42" y1="2512.6" x2="573.42" y2="2523.1" stroke="#231815" stroke-width="1.85"/>
<line x1="597.23" y1="2512.6" x2="597.23" y2="2517.6" stroke="#231815" stroke-width="1.85"/>
<line x1="621.04" y1="2512.6" x2="621.04" y2="2517.6" stroke="#231815" stroke-width="1.85"/>
<line x1="644.85" y1="2512.6" x2="644.85" y2="2517.6" stroke="#231815" stroke-width="1.85"/>
<line x1="668.66" y1="2512.6" x2="668.66" y2="2517.6" stroke="#231815" stroke-width="1.85"/>
<line x1="692.47" y1="2512.6" x2="692.47" y2="2517.6" stroke="#231815" stroke-width="1.85"/>
<line x1="716.28" y1="2512.6" x2="716.28" y2="2523.1" stroke="#231815" stroke-width="1.85"/>
<line x1="740.09" y1="2512.6" x2="740.09" y2="2517.6" stroke="#231815" stroke-width="1.85"/>
<line x1="763.9" y1="2512.6" x2="763.9" y2="2517.6" stroke="#231815" stroke-width="1.85"/>
<line x1="787.71" y1="2512.6" x2="787.71" y2="2517.6" stroke="#231815" stroke-width="1.85"/>
<line x1="811.52" y1="2512.6" x2="811.52" y2="2517.6" stroke="#231815" stroke-width="1.85"/>
<line x1="835.33" y1="2512.6" x2="835.33" y2="2517.6" stroke="#231815" stroke-width="1.85"/>
<line x1="859.14" y1="2512.6" x2="859.14" y2="2523.1" stroke="#231815" stroke-width="1.85"/>
<line x1="882.95" y1="2512.6" x2="882.95" y2="2517.6" stroke="#231815" stroke-width="1.85"/>
<line x1="906.76" y1="2512.6" x2="906.76" y2="2517.6" stroke="#231815" stroke-width="1.85"/>
<line x1="930.57" y1="2512.6" x2="930.57" y2="2517.6" stroke="#231815" stroke-width="1.85"/>
<line x1="954.38" y1="2512.6" x2="954.38" y2="2517.6" stroke="#231815" stroke-width="1.85"/>
<line x1="978.19" y1="2512.6" x2="978.19" y2="2517.6" stroke="#231815" stroke-width="1.85"/>
<line x1="1002" y1="2512.6" x2="1002" y2="2523.1" stroke="#231815" stroke-width="1.85"/>
<text x="288.7" y="2550" text-anchor="middle" font-size="28" fill="#231815" textLength="14.73" lengthAdjust="spacingAndGlyphs">0</text>
<text x="431.56" y="2550" text-anchor="middle" font-size="28" fill="#231815" textLength="29.46" lengthAdjust="spacingAndGlyphs">30</text>
<text x="574.42" y="2550" text-anchor="middle" font-size="28" fill="#231815" textLength="29.46" lengthAdjust="spacingAndGlyphs">60</text>
<text x="717.28" y="2550" text-anchor="middle" font-size="28" fill="#231815" textLength="29.46" lengthAdjust="spacingAndGlyphs">90</text>
<text x="860.14" y="2550" text-anchor="middle" font-size="28" fill="#231815" textLength="44.19" lengthAdjust="spacingAndGlyphs">120</text>
<text x="1003" y="2550" text-anchor="middle" font-size="28" fill="#231815" textLength="44.19" lengthAdjust="spacingAndGlyphs">150</text>
<text x="1035" y="2549.8" text-anchor="start" font-size="25" font-weight="normal" fill="#231815" textLength="105" lengthAdjust="spacingAndGlyphs">Q(L/min)</text>
<line x1="311.51" y1="2583.6" x2="311.51" y2="2770.2" stroke="#d9d9d9" stroke-width="1.3"/>
<line x1="335.32" y1="2583.6" x2="335.32" y2="2770.2" stroke="#d9d9d9" stroke-width="1.3"/>
<line x1="359.13" y1="2583.6" x2="359.13" y2="2770.2" stroke="#d9d9d9" stroke-width="1.3"/>
<line x1="382.94" y1="2583.6" x2="382.94" y2="2770.2" stroke="#d9d9d9" stroke-width="1.3"/>
<line x1="406.75" y1="2583.6" x2="406.75" y2="2770.2" stroke="#969696" stroke-width="1.35"/>
<line x1="430.56" y1="2583.6" x2="430.56" y2="2770.2" stroke="#d9d9d9" stroke-width="1.3"/>
<line x1="454.37" y1="2583.6" x2="454.37" y2="2770.2" stroke="#d9d9d9" stroke-width="1.3"/>
<line x1="478.18" y1="2583.6" x2="478.18" y2="2770.2" stroke="#d9d9d9" stroke-width="1.3"/>
<line x1="501.99" y1="2583.6" x2="501.99" y2="2770.2" stroke="#d9d9d9" stroke-width="1.3"/>
<line x1="525.8" y1="2583.6" x2="525.8" y2="2770.2" stroke="#969696" stroke-width="1.35"/>
<line x1="549.61" y1="2583.6" x2="549.61" y2="2770.2" stroke="#d9d9d9" stroke-width="1.3"/>
<line x1="573.42" y1="2583.6" x2="573.42" y2="2770.2" stroke="#d9d9d9" stroke-width="1.3"/>
<line x1="597.23" y1="2583.6" x2="597.23" y2="2770.2" stroke="#d9d9d9" stroke-width="1.3"/>
<line x1="621.04" y1="2583.6" x2="621.04" y2="2770.2" stroke="#d9d9d9" stroke-width="1.3"/>
<line x1="644.85" y1="2583.6" x2="644.85" y2="2770.2" stroke="#969696" stroke-width="1.35"/>
<line x1="668.66" y1="2583.6" x2="668.66" y2="2770.2" stroke="#d9d9d9" stroke-width="1.3"/>
<line x1="692.47" y1="2583.6" x2="692.47" y2="2770.2" stroke="#d9d9d9" stroke-width="1.3"/>
<line x1="716.28" y1="2583.6" x2="716.28" y2="2770.2" stroke="#d9d9d9" stroke-width="1.3"/>
<line x1="740.09" y1="2583.6" x2="740.09" y2="2770.2" stroke="#d9d9d9" stroke-width="1.3"/>
<line x1="763.9" y1="2583.6" x2="763.9" y2="2770.2" stroke="#969696" stroke-width="1.35"/>
<line x1="787.71" y1="2583.6" x2="787.71" y2="2770.2" stroke="#d9d9d9" stroke-width="1.3"/>
<line x1="811.52" y1="2583.6" x2="811.52" y2="2770.2" stroke="#d9d9d9" stroke-width="1.3"/>
<line x1="835.33" y1="2583.6" x2="835.33" y2="2770.2" stroke="#d9d9d9" stroke-width="1.3"/>
<line x1="859.14" y1="2583.6" x2="859.14" y2="2770.2" stroke="#d9d9d9" stroke-width="1.3"/>
<line x1="882.95" y1="2583.6" x2="882.95" y2="2770.2" stroke="#969696" stroke-width="1.35"/>
<line x1="906.76" y1="2583.6" x2="906.76" y2="2770.2" stroke="#d9d9d9" stroke-width="1.3"/>
<line x1="930.57" y1="2583.6" x2="930.57" y2="2770.2" stroke="#d9d9d9" stroke-width="1.3"/>
<line x1="954.38" y1="2583.6" x2="954.38" y2="2770.2" stroke="#d9d9d9" stroke-width="1.3"/>
<line x1="978.19" y1="2583.6" x2="978.19" y2="2770.2" stroke="#d9d9d9" stroke-width="1.3"/>
<line x1="287.7" y1="2746.88" x2="1002" y2="2746.88" stroke="#d9d9d9" stroke-width="1.3"/>
<line x1="287.7" y1="2723.55" x2="1002" y2="2723.55" stroke="#969696" stroke-width="1.35"/>
<line x1="287.7" y1="2700.22" x2="1002" y2="2700.22" stroke="#d9d9d9" stroke-width="1.3"/>
<line x1="287.7" y1="2676.9" x2="1002" y2="2676.9" stroke="#969696" stroke-width="1.35"/>
<line x1="287.7" y1="2653.57" x2="1002" y2="2653.57" stroke="#d9d9d9" stroke-width="1.3"/>
<line x1="287.7" y1="2630.25" x2="1002" y2="2630.25" stroke="#969696" stroke-width="1.35"/>
<line x1="287.7" y1="2606.92" x2="1002" y2="2606.92" stroke="#d9d9d9" stroke-width="1.3"/>
<path d="M287.7 2770.2 L292.5 2767.19 L297.29 2764.17 L302.09 2761.17 L306.89 2758.16 L311.68 2755.17 L316.48 2752.18 L321.27 2749.2 L326.07 2746.23 L330.87 2743.28 L335.66 2740.34 L340.46 2737.42 L345.26 2734.52 L350.05 2731.64 L354.85 2728.78 L359.64 2725.94 L364.44 2723.13 L369.24 2720.35 L374.03 2717.59 L378.83 2714.87 L383.63 2712.18 L388.42 2709.52 L393.22 2706.89 L398.01 2704.31 L402.81 2701.76 L407.61 2699.26 L412.4 2696.79 L417.2 2694.37 L422 2691.98 L426.79 2689.64 L431.59 2687.34 L436.38 2685.07 L441.18 2682.84 L445.98 2680.65 L450.77 2678.5 L455.57 2676.38 L460.37 2674.3 L465.16 2672.25 L469.96 2670.23 L474.75 2668.25 L479.55 2666.3 L484.35 2664.38 L489.14 2662.49 L493.94 2660.63 L498.74 2658.8 L503.53 2657 L508.33 2655.23 L513.12 2653.48 L517.92 2651.77 L522.72 2650.07 L527.51 2648.41 L532.31 2646.77 L537.11 2645.15 L541.9 2643.56 L546.7 2642 L551.49 2640.47 L556.29 2638.97 L561.09 2637.5 L565.88 2636.06 L570.68 2634.66 L575.48 2633.29 L580.27 2631.95 L585.07 2630.65 L589.86 2629.38 L594.66 2628.16 L599.46 2626.97 L604.25 2625.82 L609.05 2624.71 L613.85 2623.64 L618.64 2622.62 L623.44 2621.63 L628.23 2620.7 L633.03 2619.8 L637.83 2618.96 L642.62 2618.16 L647.42 2617.4 L652.22 2616.7 L657.01 2616.04 L661.81 2615.43 L666.6 2614.87 L671.4 2614.35 L676.2 2613.87 L680.99 2613.44 L685.79 2613.06 L690.59 2612.71 L695.38 2612.41 L700.18 2612.15 L704.97 2611.92 L709.77 2611.74 L714.57 2611.6 L719.36 2611.5 L724.16 2611.43 L728.96 2611.4 L733.75 2611.41 L738.55 2611.45 L743.34 2611.54 L748.14 2611.67 L752.94 2611.84 L757.73 2612.05 L762.53 2612.32 L767.33 2612.63 L772.12 2612.99 L776.92 2613.4 L781.71 2613.87 L786.51 2614.38 L791.31 2614.94 L796.1 2615.56 L800.9 2616.23 L805.7 2616.96 L810.49 2617.73 L815.29 2618.56 L820.08 2619.44 L824.88 2620.38 L829.68 2621.37 L834.47 2622.42 L839.27 2623.53 L844.07 2624.68 L848.86 2625.9 L853.66 2627.17 L858.45 2628.5 L863.25 2629.89 L868.05 2631.33 L872.84 2632.84 L877.64 2634.4 L882.44 2636.02 L887.23 2637.7 L892.03 2639.44 L896.82 2641.23 L901.62 2643.07 L906.42 2644.95 L911.21 2646.87 L916.01 2648.83 L920.81 2650.81 L925.6 2652.83 L930.4 2654.87 L935.19 2656.93 L939.99 2659.01 L944.79 2661.1 L949.58 2663.2 L954.38 2665.3" fill="none" stroke="#2253a5" stroke-width="3.6"/>
<line x1="287.7" y1="2582.6" x2="287.7" y2="2771.2" stroke="#231815" stroke-width="1.85"/>
<line x1="277.2" y1="2770.2" x2="1003" y2="2770.2" stroke="#231815" stroke-width="1.85"/>
<line x1="277.2" y1="2583.6" x2="1002.75" y2="2583.6" stroke="#231815" stroke-width="1.6"/>
<line x1="1002" y1="2583.6" x2="1002" y2="2771.2" stroke="#231815" stroke-width="1.6"/>
<line x1="277.2" y1="2770.2" x2="287.7" y2="2770.2" stroke="#231815" stroke-width="1.85"/>
<line x1="277.2" y1="2746.88" x2="287.7" y2="2746.88" stroke="#231815" stroke-width="1.85"/>
<line x1="277.2" y1="2723.55" x2="287.7" y2="2723.55" stroke="#231815" stroke-width="1.85"/>
<line x1="277.2" y1="2700.22" x2="287.7" y2="2700.22" stroke="#231815" stroke-width="1.85"/>
<line x1="277.2" y1="2676.9" x2="287.7" y2="2676.9" stroke="#231815" stroke-width="1.85"/>
<line x1="277.2" y1="2653.57" x2="287.7" y2="2653.57" stroke="#231815" stroke-width="1.85"/>
<line x1="277.2" y1="2630.25" x2="287.7" y2="2630.25" stroke="#231815" stroke-width="1.85"/>
<line x1="277.2" y1="2606.92" x2="287.7" y2="2606.92" stroke="#231815" stroke-width="1.85"/>
<line x1="277.2" y1="2583.6" x2="287.7" y2="2583.6" stroke="#231815" stroke-width="1.85"/>
<text x="269.1" y="2779.6" text-anchor="end" font-size="28" fill="#231815" textLength="14.73" lengthAdjust="spacingAndGlyphs">0</text>
<text x="269.1" y="2732.95" text-anchor="end" font-size="28" fill="#231815" textLength="29.46" lengthAdjust="spacingAndGlyphs">20</text>
<text x="269.1" y="2686.3" text-anchor="end" font-size="28" fill="#231815" textLength="29.46" lengthAdjust="spacingAndGlyphs">40</text>
<text x="269.1" y="2639.65" text-anchor="end" font-size="28" fill="#231815" textLength="29.46" lengthAdjust="spacingAndGlyphs">60</text>
<text x="269.1" y="2593" text-anchor="end" font-size="28" fill="#231815" textLength="29.46" lengthAdjust="spacingAndGlyphs">80</text>
<text x="158" y="2592.6" text-anchor="start" font-size="25" font-weight="normal" fill="#231815" textLength="75" lengthAdjust="spacingAndGlyphs">Eta(%)</text>
<line x1="287.7" y1="2770.2" x2="287.7" y2="2780.4" stroke="#231815" stroke-width="1.85"/>
<line x1="311.51" y1="2770.2" x2="311.51" y2="2775.4" stroke="#231815" stroke-width="1.85"/>
<line x1="335.32" y1="2770.2" x2="335.32" y2="2775.4" stroke="#231815" stroke-width="1.85"/>
<line x1="359.13" y1="2770.2" x2="359.13" y2="2775.4" stroke="#231815" stroke-width="1.85"/>
<line x1="382.94" y1="2770.2" x2="382.94" y2="2775.4" stroke="#231815" stroke-width="1.85"/>
<line x1="406.75" y1="2770.2" x2="406.75" y2="2780.4" stroke="#231815" stroke-width="1.85"/>
<line x1="430.56" y1="2770.2" x2="430.56" y2="2775.4" stroke="#231815" stroke-width="1.85"/>
<line x1="454.37" y1="2770.2" x2="454.37" y2="2775.4" stroke="#231815" stroke-width="1.85"/>
<line x1="478.18" y1="2770.2" x2="478.18" y2="2775.4" stroke="#231815" stroke-width="1.85"/>
<line x1="501.99" y1="2770.2" x2="501.99" y2="2775.4" stroke="#231815" stroke-width="1.85"/>
<line x1="525.8" y1="2770.2" x2="525.8" y2="2780.4" stroke="#231815" stroke-width="1.85"/>
<line x1="549.61" y1="2770.2" x2="549.61" y2="2775.4" stroke="#231815" stroke-width="1.85"/>
<line x1="573.42" y1="2770.2" x2="573.42" y2="2775.4" stroke="#231815" stroke-width="1.85"/>
<line x1="597.23" y1="2770.2" x2="597.23" y2="2775.4" stroke="#231815" stroke-width="1.85"/>
<line x1="621.04" y1="2770.2" x2="621.04" y2="2775.4" stroke="#231815" stroke-width="1.85"/>
<line x1="644.85" y1="2770.2" x2="644.85" y2="2780.4" stroke="#231815" stroke-width="1.85"/>
<line x1="668.66" y1="2770.2" x2="668.66" y2="2775.4" stroke="#231815" stroke-width="1.85"/>
<line x1="692.47" y1="2770.2" x2="692.47" y2="2775.4" stroke="#231815" stroke-width="1.85"/>
<line x1="716.28" y1="2770.2" x2="716.28" y2="2775.4" stroke="#231815" stroke-width="1.85"/>
<line x1="740.09" y1="2770.2" x2="740.09" y2="2775.4" stroke="#231815" stroke-width="1.85"/>
<line x1="763.9" y1="2770.2" x2="763.9" y2="2780.4" stroke="#231815" stroke-width="1.85"/>
<line x1="787.71" y1="2770.2" x2="787.71" y2="2775.4" stroke="#231815" stroke-width="1.85"/>
<line x1="811.52" y1="2770.2" x2="811.52" y2="2775.4" stroke="#231815" stroke-width="1.85"/>
<line x1="835.33" y1="2770.2" x2="835.33" y2="2775.4" stroke="#231815" stroke-width="1.85"/>
<line x1="859.14" y1="2770.2" x2="859.14" y2="2775.4" stroke="#231815" stroke-width="1.85"/>
<line x1="882.95" y1="2770.2" x2="882.95" y2="2780.4" stroke="#231815" stroke-width="1.85"/>
<line x1="906.76" y1="2770.2" x2="906.76" y2="2775.4" stroke="#231815" stroke-width="1.85"/>
<line x1="930.57" y1="2770.2" x2="930.57" y2="2775.4" stroke="#231815" stroke-width="1.85"/>
<line x1="954.38" y1="2770.2" x2="954.38" y2="2775.4" stroke="#231815" stroke-width="1.85"/>
<line x1="978.19" y1="2770.2" x2="978.19" y2="2775.4" stroke="#231815" stroke-width="1.85"/>
<line x1="1002" y1="2770.2" x2="1002" y2="2780.4" stroke="#231815" stroke-width="1.85"/>
<text x="289.1" y="2808" text-anchor="middle" font-size="28" fill="#231815" textLength="14.73" lengthAdjust="spacingAndGlyphs">0</text>
<text x="407.45" y="2808" text-anchor="middle" font-size="28" fill="#231815" textLength="36.83" lengthAdjust="spacingAndGlyphs">1.5</text>
<text x="527.2" y="2808" text-anchor="middle" font-size="28" fill="#231815" textLength="14.73" lengthAdjust="spacingAndGlyphs">3</text>
<text x="645.55" y="2808" text-anchor="middle" font-size="28" fill="#231815" textLength="36.83" lengthAdjust="spacingAndGlyphs">4.5</text>
<text x="765.3" y="2808" text-anchor="middle" font-size="28" fill="#231815" textLength="14.73" lengthAdjust="spacingAndGlyphs">6</text>
<text x="883.65" y="2808" text-anchor="middle" font-size="28" fill="#231815" textLength="36.83" lengthAdjust="spacingAndGlyphs">7.5</text>
<text x="1003.4" y="2808" text-anchor="middle" font-size="28" fill="#231815" textLength="14.73" lengthAdjust="spacingAndGlyphs">9</text>
<text x="1023.6" y="2808" font-size="25.0" fill="#231815" textLength="89.5" lengthAdjust="spacingAndGlyphs">Q(m<tspan font-size="17" dy="-8">3</tspan><tspan dy="8">/h)</tspan></text>
</svg>
</body>
</html>
